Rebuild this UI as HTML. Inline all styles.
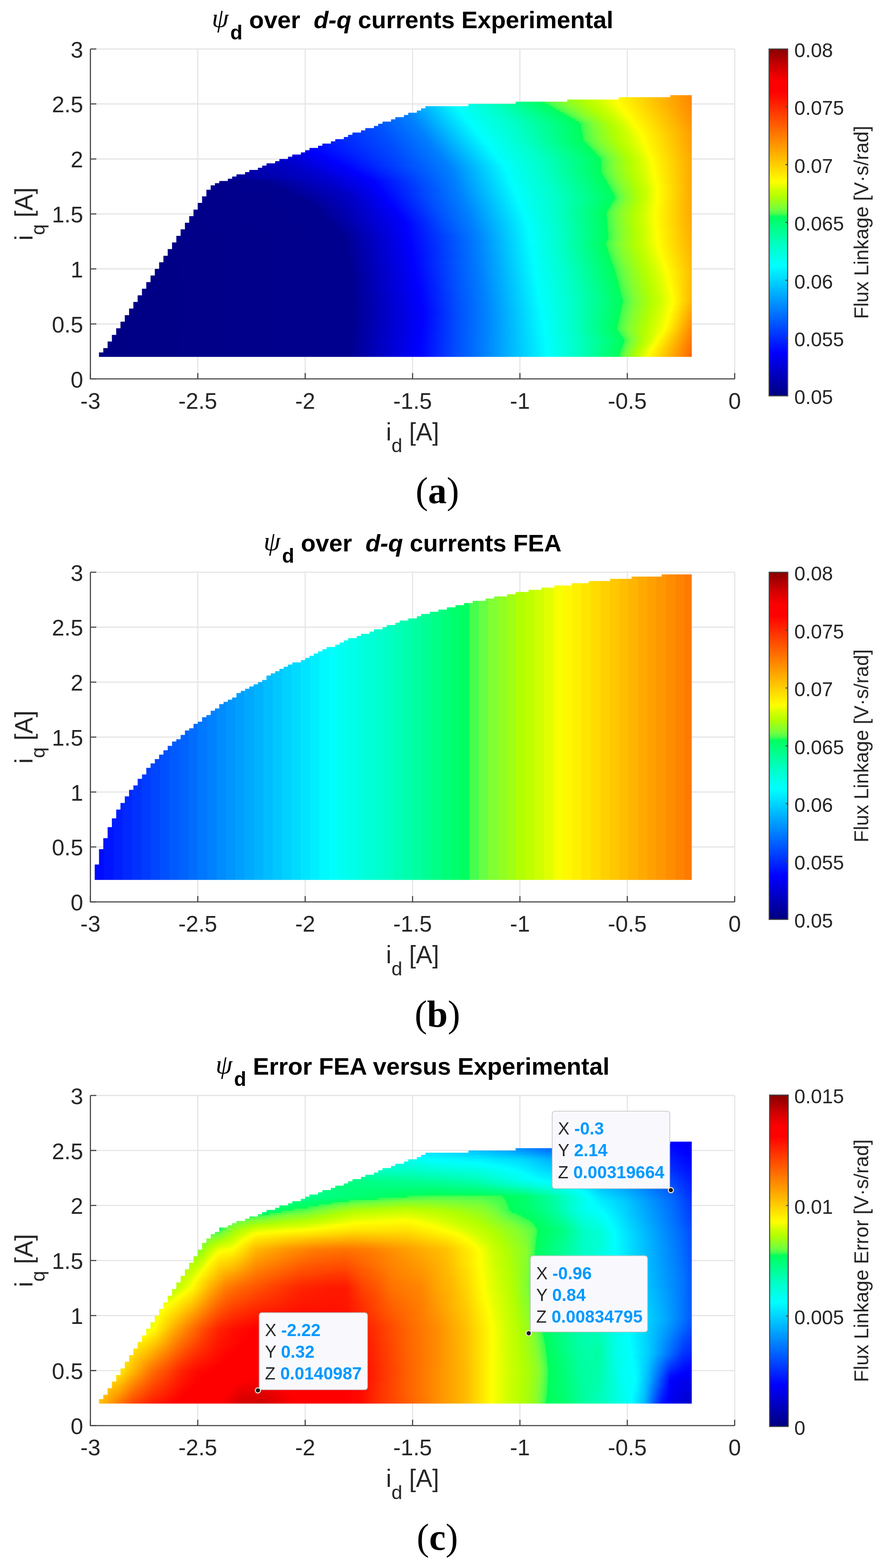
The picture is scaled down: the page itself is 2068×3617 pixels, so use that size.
<!DOCTYPE html>
<html><head><meta charset="utf-8"><style>
html,body{margin:0;padding:0;background:#fff}
#pg{position:relative;width:2068px;height:3617px;overflow:hidden;background:#fff}
svg{position:absolute;left:0;top:0}
.hm{position:absolute}
.hm i{position:absolute;left:0;right:0;display:block}
text{font-family:"Liberation Sans",Arial,sans-serif;fill:#262626;white-space:pre}
.tl text{font-size:52px}
.lab{font-size:56.5px}
.ttl{font-size:55.8px;font-weight:bold;fill:#000}
.cl,.cl text{font-size:45.8px}
.cap{font-family:"Liberation Serif",serif;font-size:86px;fill:#000}
.dt{font-size:39.8px;fill:#262626}
.dv{font-weight:bold;fill:#0099ff}
</style></head><body><div id="pg">
<svg width="2068" height="3617"><g stroke="#e3e3e3" stroke-width="2.4"><line x1="456.5" y1="113.0" x2="456.5" y2="874.0"/><line x1="704.4" y1="113.0" x2="704.4" y2="874.0"/><line x1="952.2" y1="113.0" x2="952.2" y2="874.0"/><line x1="1200.0" y1="113.0" x2="1200.0" y2="874.0"/><line x1="1447.9" y1="113.0" x2="1447.9" y2="874.0"/><line x1="1695.7" y1="113.0" x2="1695.7" y2="874.0"/><line x1="208.7" y1="747.2" x2="1695.7" y2="747.2"/><line x1="208.7" y1="620.3" x2="1695.7" y2="620.3"/><line x1="208.7" y1="493.5" x2="1695.7" y2="493.5"/><line x1="208.7" y1="366.7" x2="1695.7" y2="366.7"/><line x1="208.7" y1="239.8" x2="1695.7" y2="239.8"/><line x1="208.7" y1="113.0" x2="1695.7" y2="113.0"/></g><g stroke="#e3e3e3" stroke-width="2.4"><line x1="456.5" y1="1320.0" x2="456.5" y2="2080.5"/><line x1="704.4" y1="1320.0" x2="704.4" y2="2080.5"/><line x1="952.2" y1="1320.0" x2="952.2" y2="2080.5"/><line x1="1200.0" y1="1320.0" x2="1200.0" y2="2080.5"/><line x1="1447.9" y1="1320.0" x2="1447.9" y2="2080.5"/><line x1="1695.7" y1="1320.0" x2="1695.7" y2="2080.5"/><line x1="208.7" y1="1953.8" x2="1695.7" y2="1953.8"/><line x1="208.7" y1="1827.0" x2="1695.7" y2="1827.0"/><line x1="208.7" y1="1700.2" x2="1695.7" y2="1700.2"/><line x1="208.7" y1="1573.5" x2="1695.7" y2="1573.5"/><line x1="208.7" y1="1446.8" x2="1695.7" y2="1446.8"/><line x1="208.7" y1="1320.0" x2="1695.7" y2="1320.0"/></g><g stroke="#e3e3e3" stroke-width="2.4"><line x1="456.5" y1="2527.0" x2="456.5" y2="3288.5"/><line x1="704.4" y1="2527.0" x2="704.4" y2="3288.5"/><line x1="952.2" y1="2527.0" x2="952.2" y2="3288.5"/><line x1="1200.0" y1="2527.0" x2="1200.0" y2="3288.5"/><line x1="1447.9" y1="2527.0" x2="1447.9" y2="3288.5"/><line x1="1695.7" y1="2527.0" x2="1695.7" y2="3288.5"/><line x1="208.7" y1="3161.6" x2="1695.7" y2="3161.6"/><line x1="208.7" y1="3034.7" x2="1695.7" y2="3034.7"/><line x1="208.7" y1="2907.8" x2="1695.7" y2="2907.8"/><line x1="208.7" y1="2780.8" x2="1695.7" y2="2780.8"/><line x1="208.7" y1="2653.9" x2="1695.7" y2="2653.9"/><line x1="208.7" y1="2527.0" x2="1695.7" y2="2527.0"/></g></svg>
<div class="hm" style="left:228px;top:219px;width:1369px;height:605px;clip-path:polygon(0.5px 604.3px,0.5px 594.1px,10.4px 594.1px,10.4px 584.0px,20.4px 584.0px,20.4px 568.8px,30.3px 568.8px,30.3px 553.5px,40.2px 553.5px,40.2px 538.3px,50.1px 538.3px,50.1px 523.1px,60.0px 523.1px,60.0px 507.9px,69.9px 507.9px,69.9px 492.7px,79.8px 492.7px,79.8px 477.4px,89.7px 477.4px,89.7px 462.2px,99.7px 462.2px,99.7px 447.0px,109.6px 447.0px,109.6px 431.8px,119.5px 431.8px,119.5px 416.6px,129.4px 416.6px,129.4px 401.3px,139.3px 401.3px,139.3px 386.1px,149.2px 386.1px,149.2px 370.9px,159.1px 370.9px,159.1px 355.7px,169.1px 355.7px,169.1px 340.5px,179.0px 340.5px,179.0px 325.2px,188.9px 325.2px,188.9px 310.0px,198.8px 310.0px,198.8px 294.8px,208.7px 294.8px,208.7px 279.6px,218.6px 279.6px,218.6px 264.4px,228.5px 264.4px,228.5px 249.1px,238.4px 249.1px,238.4px 233.9px,248.4px 233.9px,248.4px 218.7px,258.3px 218.7px,258.3px 208.5px,268.2px 208.5px,268.2px 203.5px,278.1px 203.5px,278.1px 198.4px,288.0px 198.4px,288.0px 198.4px,297.9px 198.4px,297.9px 193.3px,307.8px 193.3px,307.8px 188.3px,317.8px 188.3px,317.8px 183.2px,327.7px 183.2px,327.7px 183.2px,337.6px 183.2px,337.6px 178.1px,347.5px 178.1px,347.5px 173.0px,357.4px 173.0px,357.4px 173.0px,367.3px 173.0px,367.3px 168.0px,377.2px 168.0px,377.2px 162.9px,387.1px 162.9px,387.1px 157.8px,397.1px 157.8px,397.1px 157.8px,407.0px 157.8px,407.0px 152.7px,416.9px 152.7px,416.9px 147.7px,426.8px 147.7px,426.8px 147.7px,436.7px 147.7px,436.7px 142.6px,446.6px 142.6px,446.6px 137.5px,456.5px 137.5px,456.5px 137.5px,466.5px 137.5px,466.5px 132.4px,476.4px 132.4px,476.4px 127.4px,486.3px 127.4px,486.3px 122.3px,496.2px 122.3px,496.2px 122.3px,506.1px 122.3px,506.1px 117.2px,516.0px 117.2px,516.0px 112.2px,525.9px 112.2px,525.9px 112.2px,535.8px 112.2px,535.8px 107.1px,545.8px 107.1px,545.8px 102.0px,555.7px 102.0px,555.7px 102.0px,565.6px 102.0px,565.6px 96.9px,575.5px 96.9px,575.5px 91.9px,585.4px 91.9px,585.4px 86.8px,595.3px 86.8px,595.3px 86.8px,605.2px 86.8px,605.2px 81.7px,615.2px 81.7px,615.2px 76.6px,625.1px 76.6px,625.1px 76.6px,635.0px 76.6px,635.0px 71.6px,644.9px 71.6px,644.9px 66.5px,654.8px 66.5px,654.8px 61.4px,664.7px 61.4px,664.7px 61.4px,674.6px 61.4px,674.6px 56.3px,684.5px 56.3px,684.5px 51.3px,694.5px 51.3px,694.5px 51.3px,704.4px 51.3px,704.4px 46.2px,714.3px 46.2px,714.3px 41.1px,724.2px 41.1px,724.2px 41.1px,734.1px 41.1px,734.1px 36.1px,744.0px 36.1px,744.0px 31.0px,753.9px 31.0px,753.9px 25.9px,763.9px 25.9px,763.9px 25.9px,773.8px 25.9px,773.8px 25.9px,783.7px 25.9px,783.7px 25.9px,793.6px 25.9px,793.6px 25.9px,803.5px 25.9px,803.5px 25.9px,813.4px 25.9px,813.4px 25.9px,823.3px 25.9px,823.3px 25.9px,833.2px 25.9px,833.2px 25.9px,843.2px 25.9px,843.2px 25.9px,853.1px 25.9px,853.1px 20.8px,863.0px 20.8px,863.0px 20.8px,872.9px 20.8px,872.9px 20.8px,882.8px 20.8px,882.8px 20.8px,892.7px 20.8px,892.7px 20.8px,902.6px 20.8px,902.6px 20.8px,912.6px 20.8px,912.6px 20.8px,922.5px 20.8px,922.5px 20.8px,932.4px 20.8px,932.4px 20.8px,942.3px 20.8px,942.3px 20.8px,952.2px 20.8px,952.2px 20.8px,962.1px 20.8px,962.1px 15.8px,972.0px 15.8px,972.0px 15.8px,981.9px 15.8px,981.9px 15.8px,991.9px 15.8px,991.9px 15.8px,1001.8px 15.8px,1001.8px 15.8px,1011.7px 15.8px,1011.7px 15.8px,1021.6px 15.8px,1021.6px 15.8px,1031.5px 15.8px,1031.5px 15.8px,1041.4px 15.8px,1041.4px 15.8px,1051.3px 15.8px,1051.3px 15.8px,1061.3px 15.8px,1061.3px 15.8px,1071.2px 15.8px,1071.2px 15.8px,1081.1px 15.8px,1081.1px 10.7px,1091.0px 10.7px,1091.0px 10.7px,1100.9px 10.7px,1100.9px 10.7px,1110.8px 10.7px,1110.8px 10.7px,1120.7px 10.7px,1120.7px 10.7px,1130.6px 10.7px,1130.6px 10.7px,1140.6px 10.7px,1140.6px 10.7px,1150.5px 10.7px,1150.5px 10.7px,1160.4px 10.7px,1160.4px 10.7px,1170.3px 10.7px,1170.3px 10.7px,1180.2px 10.7px,1180.2px 10.7px,1190.1px 10.7px,1190.1px 10.7px,1200.0px 10.7px,1200.0px 5.6px,1210.0px 5.6px,1210.0px 5.6px,1219.9px 5.6px,1219.9px 5.6px,1229.8px 5.6px,1229.8px 5.6px,1239.7px 5.6px,1239.7px 5.6px,1249.6px 5.6px,1249.6px 5.6px,1259.5px 5.6px,1259.5px 5.6px,1269.4px 5.6px,1269.4px 5.6px,1279.3px 5.6px,1279.3px 5.6px,1289.3px 5.6px,1289.3px 5.6px,1299.2px 5.6px,1299.2px 5.6px,1309.1px 5.6px,1309.1px 5.6px,1319.0px 5.6px,1319.0px 0.5px,1328.9px 0.5px,1328.9px 0.5px,1338.8px 0.5px,1338.8px 0.5px,1348.7px 0.5px,1348.7px 0.5px,1358.7px 0.5px,1358.7px 0.5px,1368.6px 0.5px,1368.6px 604.3px)">
<i style="top:0px;height:6px;background:linear-gradient(90deg,#000089 0px,#00008f 179px,#0000c7 327px,#0000ff 377px,#0080ff 676px,#00feff 803px,#00ffc7 890px,#00ff5a 1017px,#01ff59 1018px,#25ff54 1019px,#39ff51 1020px,#66ff45 1043px,#7fff33 1060px,#b2ff00 1114px,#cdff00 1145px,#ffff00 1187px,#ff8800 1369px)"></i>
<i style="top:5px;height:6px;background:linear-gradient(90deg,#000089 0px,#00008f 179px,#0000c7 327px,#0000ff 378px,#004cff 566px,#007fff 680px,#00ffff 808px,#00ffc7 894px,#00ff5a 1021px,#18ff56 1022px,#38ff52 1023px,#65ff45 1046px,#80ff33 1064px,#b2ff00 1117px,#ccff00 1148px,#ffff00 1190px,#ff8800 1369px)"></i>
<i style="top:10px;height:6px;background:linear-gradient(90deg,#000089 0px,#00008f 179px,#0000c7 327px,#0000ff 378px,#004cff 572px,#007fff 684px,#00feff 812px,#00ffc7 898px,#00ff5a 1024px,#0aff58 1025px,#2dff53 1026px,#39ff51 1027px,#65ff45 1049px,#7fff33 1067px,#b3ff00 1121px,#ccff00 1151px,#ffff00 1194px,#ff8800 1369px)"></i>
<i style="top:15px;height:6px;background:linear-gradient(90deg,#000089 0px,#00008f 179px,#0000c7 327px,#0000ff 378px,#004cff 577px,#0080ff 689px,#00ffff 817px,#00ffc7 902px,#00ff5a 1028px,#0eff57 1029px,#31ff53 1030px,#3aff51 1031px,#65ff45 1053px,#80ff33 1071px,#b2ff00 1124px,#ccff00 1155px,#ffff00 1197px,#ff8900 1369px)"></i>
<i style="top:20px;height:6px;background:linear-gradient(90deg,#000089 0px,#00008f 179px,#0000c7 327px,#0000ff 378px,#004dff 583px,#007fff 693px,#00ffff 822px,#00ffc6 909px,#00ff5a 1037px,#38ff52 1039px,#65ff45 1061px,#7fff33 1078px,#b2ff00 1130px,#cdff00 1160px,#ffff00 1201px,#ff8900 1369px)"></i>
<i style="top:25px;height:6px;background:linear-gradient(90deg,#000089 0px,#00008f 179px,#0000c7 327px,#0000ff 378px,#004cff 588px,#007fff 697px,#00feff 826px,#00ffc7 915px,#00ff5a 1045px,#01ff59 1046px,#25ff54 1047px,#39ff51 1048px,#65ff45 1069px,#80ff33 1086px,#b2ff00 1136px,#cdff00 1165px,#ffff00 1204px,#ff8a00 1369px)"></i>
<i style="top:30px;height:6px;background:linear-gradient(90deg,#000089 0px,#00008f 179px,#0000c7 327px,#0000ff 378px,#004dff 594px,#007fff 702px,#00feff 830px,#00ffc7 921px,#00ff5a 1054px,#0dff58 1055px,#30ff53 1056px,#3aff51 1057px,#65ff45 1077px,#7fff33 1093px,#b2ff00 1142px,#cdff00 1170px,#ffff00 1208px,#ff8b00 1369px)"></i>
<i style="top:35px;height:6px;background:linear-gradient(90deg,#000089 0px,#00008f 179px,#0000c7 327px,#0000ff 378px,#004cff 599px,#007fff 706px,#00feff 834px,#00ffc6 927px,#00ff5a 1063px,#18ff56 1064px,#38ff52 1065px,#67ff44 1086px,#80ff33 1101px,#b3ff00 1148px,#ccff00 1175px,#ffff00 1212px,#ff8d00 1369px)"></i>
<i style="top:40px;height:6px;background:linear-gradient(90deg,#000089 0px,#00008f 179px,#0000c7 327px,#0000ff 378px,#004dff 605px,#007fff 710px,#00feff 838px,#00ffc6 933px,#00ff59 1072px,#23ff54 1073px,#39ff51 1074px,#67ff44 1094px,#7fff33 1108px,#b3ff00 1154px,#ccff00 1180px,#ffff00 1216px,#ff8f00 1369px)"></i>
<i style="top:45px;height:6px;background:linear-gradient(90deg,#000089 0px,#00008f 179px,#0000c7 327px,#0000ff 379px,#004cff 610px,#007fff 714px,#00feff 842px,#00ffc7 938px,#00ff5a 1080px,#0bff58 1081px,#30ff53 1082px,#3aff51 1083px,#67ff44 1102px,#80ff33 1116px,#b3ff00 1160px,#ccff00 1185px,#ffff00 1220px,#ff9000 1369px)"></i>
<i style="top:50px;height:6px;background:linear-gradient(90deg,#000089 0px,#00008f 179px,#0000c7 327px,#0000ff 386px,#004cff 615px,#007fff 718px,#00feff 846px,#00ffc7 944px,#00ff5a 1089px,#16ff56 1090px,#38ff52 1091px,#67ff44 1110px,#7fff33 1123px,#b3ff00 1166px,#ccff00 1190px,#ffff00 1224px,#ff9200 1369px)"></i>
<i style="top:55px;height:6px;background:linear-gradient(90deg,#000089 0px,#00008f 179px,#0000c7 327px,#0000ff 393px,#004cff 621px,#007fff 722px,#00feff 850px,#00ffc7 950px,#00ff59 1098px,#21ff55 1099px,#39ff51 1100px,#67ff44 1118px,#80ff33 1131px,#b3ff00 1172px,#ccff00 1195px,#ffff00 1228px,#ff9300 1369px)"></i>
<i style="top:60px;height:6px;background:linear-gradient(90deg,#000089 0px,#00008f 179px,#0000c7 327px,#0000ff 400px,#004cff 626px,#007fff 726px,#00ffff 855px,#00ffc7 956px,#00ff5a 1106px,#0aff58 1107px,#2fff53 1108px,#3aff51 1109px,#67ff44 1126px,#7fff33 1138px,#b3ff00 1178px,#cdff00 1201px,#ffff00 1232px,#ff9500 1369px)"></i>
<i style="top:65px;height:6px;background:linear-gradient(90deg,#000089 0px,#00008f 179px,#0000c7 328px,#0000ff 407px,#004cff 631px,#007fff 730px,#00ffff 859px,#00ffc7 961px,#00ff5a 1111px,#06ff58 1112px,#2aff53 1113px,#3aff51 1114px,#67ff44 1131px,#7fff33 1143px,#b2ff00 1182px,#cdff00 1205px,#feff00 1235px,#ff9600 1369px)"></i>
<i style="top:70px;height:6px;background:linear-gradient(90deg,#000089 0px,#00008f 179px,#0000c7 329px,#0000ff 414px,#004dff 636px,#007fff 734px,#00ffff 863px,#00ffc7 963px,#00ff5a 1112px,#0cff58 1113px,#32ff52 1114px,#3aff51 1115px,#67ff44 1132px,#80ff32 1145px,#b3ff00 1185px,#cdff00 1208px,#ffff00 1239px,#ff9800 1369px)"></i>
<i style="top:75px;height:6px;background:linear-gradient(90deg,#000089 0px,#00008f 179px,#0000c7 335px,#0000ff 421px,#004cff 640px,#007fff 738px,#00ffff 867px,#00ffc7 966px,#00ff5a 1113px,#12ff57 1114px,#38ff52 1115px,#66ff45 1133px,#7fff33 1146px,#b2ff00 1187px,#cdff00 1211px,#ffff00 1243px,#ff9a00 1369px)"></i>
<i style="top:80px;height:6px;background:linear-gradient(90deg,#000089 0px,#00008f 179px,#0000c7 341px,#0000ff 428px,#004cff 644px,#007fff 742px,#00ffff 871px,#00ffc7 969px,#00ff59 1114px,#17ff56 1115px,#39ff51 1116px,#68ff44 1135px,#80ff33 1148px,#b3ff00 1190px,#cdff00 1214px,#feff00 1246px,#ff9b00 1369px)"></i>
<i style="top:85px;height:6px;background:linear-gradient(90deg,#000089 0px,#00008f 179px,#0000c7 347px,#0000ff 435px,#004cff 648px,#007fff 746px,#00ffff 875px,#00ffc7 972px,#00ff59 1115px,#39ff51 1117px,#67ff44 1136px,#7fff33 1149px,#b3ff00 1192px,#ccff00 1216px,#ffff00 1250px,#ff9d00 1369px)"></i>
<i style="top:90px;height:6px;background:linear-gradient(90deg,#000089 0px,#00008f 179px,#0000c7 354px,#0000ff 442px,#004dff 653px,#007fff 750px,#00ffff 879px,#00ffc7 974px,#00ff5a 1115px,#01ff59 1116px,#25ff54 1117px,#39ff51 1118px,#67ff44 1137px,#7fff33 1150px,#b3ff00 1194px,#ccff00 1218px,#ffff00 1252px,#ff9e00 1369px)"></i>
<i style="top:95px;height:6px;background:linear-gradient(90deg,#000089 0px,#00008f 179px,#0000c7 360px,#0000ff 449px,#004cff 657px,#007fff 754px,#00ffff 883px,#00ffc7 977px,#00ff5a 1116px,#07ff58 1117px,#2cff53 1118px,#3aff51 1119px,#67ff44 1138px,#7fff33 1151px,#b3ff00 1195px,#cdff00 1220px,#ffff00 1254px,#ff9e00 1369px)"></i>
<i style="top:100px;height:6px;background:linear-gradient(90deg,#000089 0px,#00008f 179px,#0000c7 366px,#0000ff 456px,#004cff 661px,#007fff 758px,#00ffff 887px,#00ffc7 980px,#00ff5a 1117px,#0dff57 1118px,#33ff52 1119px,#3aff51 1120px,#67ff44 1139px,#80ff32 1153px,#b2ff00 1196px,#ccff00 1221px,#ffff00 1256px,#ff9f00 1369px)"></i>
<i style="top:105px;height:6px;background:linear-gradient(90deg,#000089 0px,#00008f 179px,#0000c7 372px,#0000ff 463px,#004cff 665px,#007fff 762px,#00ffff 891px,#00ffc7 984px,#00ff5a 1120px,#07ff58 1121px,#2cff53 1122px,#3aff51 1123px,#67ff44 1142px,#7fff33 1155px,#b3ff00 1199px,#cdff00 1224px,#ffff00 1258px,#ffa000 1369px)"></i>
<i style="top:110px;height:6px;background:linear-gradient(90deg,#000089 0px,#00008f 179px,#0000c7 379px,#0000ff 470px,#004dff 670px,#007fff 766px,#00ffff 895px,#00ffc7 988px,#00ff5a 1125px,#0dff57 1126px,#33ff52 1127px,#3aff51 1128px,#67ff44 1146px,#80ff32 1160px,#b2ff00 1202px,#ccff00 1226px,#ffff00 1260px,#ffa100 1369px)"></i>
<i style="top:115px;height:6px;background:linear-gradient(90deg,#000089 0px,#00008f 179px,#0000c7 385px,#0000ff 477px,#004cff 674px,#007fff 770px,#00feff 899px,#00ffc7 992px,#00ff5a 1130px,#13ff57 1131px,#38ff52 1132px,#68ff44 1151px,#80ff33 1164px,#b2ff00 1205px,#ccff00 1229px,#ffff00 1262px,#ffa200 1369px)"></i>
<i style="top:120px;height:6px;background:linear-gradient(90deg,#000089 0px,#00008f 179px,#0000c7 391px,#0000ff 484px,#004cff 678px,#007fff 774px,#00feff 903px,#00ffc7 997px,#00ff59 1135px,#19ff56 1136px,#39ff51 1137px,#67ff44 1155px,#80ff33 1168px,#b3ff00 1209px,#cdff00 1232px,#ffff00 1264px,#ffa200 1369px)"></i>
<i style="top:125px;height:6px;background:linear-gradient(90deg,#000089 0px,#00008f 179px,#0000c7 397px,#0000ff 492px,#004cff 682px,#0080ff 778px,#00feff 907px,#00ffc7 1001px,#00ff59 1140px,#20ff55 1141px,#39ff51 1142px,#66ff45 1159px,#80ff33 1172px,#b3ff00 1212px,#cdff00 1235px,#ffff00 1266px,#ffa300 1369px)"></i>
<i style="top:130px;height:6px;background:linear-gradient(90deg,#000089 0px,#00008f 179px,#0000c7 403px,#0000ff 502px,#004dff 687px,#0080ff 782px,#00feff 911px,#00ffc6 1006px,#00ff5a 1144px,#03ff59 1145px,#28ff54 1146px,#3aff51 1147px,#67ff44 1164px,#80ff33 1176px,#b3ff00 1215px,#ccff00 1237px,#ffff00 1268px,#ffa400 1369px)"></i>
<i style="top:135px;height:6px;background:linear-gradient(90deg,#000089 0px,#00008f 179px,#0000c7 410px,#0000ff 512px,#004cff 691px,#0080ff 786px,#00feff 915px,#00ffc7 1010px,#00ff5a 1149px,#09ff58 1150px,#30ff53 1151px,#3aff51 1152px,#66ff45 1168px,#7fff33 1180px,#b2ff00 1218px,#ccff00 1240px,#ffff00 1270px,#ffa500 1369px)"></i>
<i style="top:140px;height:6px;background:linear-gradient(90deg,#000089 0px,#00008f 179px,#0000c7 416px,#0000ff 522px,#004cff 695px,#0080ff 790px,#00feff 919px,#00ffc7 1014px,#00ff5a 1154px,#0fff57 1155px,#38ff52 1156px,#68ff44 1173px,#7fff33 1184px,#b2ff01 1221px,#cdff00 1243px,#ffff00 1272px,#ffa600 1369px)"></i>
<i style="top:145px;height:6px;background:linear-gradient(90deg,#000089 0px,#00008f 179px,#0000c7 422px,#0000ff 532px,#004cff 699px,#0080ff 794px,#00feff 923px,#00ffc7 1018px,#00ff59 1158px,#39ff51 1160px,#67ff44 1176px,#80ff32 1188px,#b2ff00 1224px,#ccff00 1245px,#ffff00 1274px,#ffa700 1369px)"></i>
<i style="top:150px;height:6px;background:linear-gradient(90deg,#000088 0px,#00008f 190px,#0000c7 428px,#0000ff 542px,#004dff 704px,#0080ff 798px,#00feff 927px,#00ffc6 1021px,#00ff5a 1158px,#15ff56 1159px,#39ff51 1160px,#66ff45 1176px,#7fff33 1188px,#b2ff00 1225px,#cdff00 1247px,#ffff00 1276px,#ffa700 1369px)"></i>
<i style="top:155px;height:6px;background:linear-gradient(90deg,#000088 0px,#00008f 201px,#0000c7 435px,#0000ff 552px,#004cff 708px,#0080ff 802px,#00ffff 932px,#00ffc7 1023px,#00ff5a 1158px,#0dff58 1159px,#37ff52 1160px,#67ff44 1177px,#80ff32 1189px,#b3ff00 1226px,#ccff00 1247px,#ffff00 1277px,#ffa700 1369px)"></i>
<i style="top:160px;height:6px;background:linear-gradient(90deg,#000088 0px,#00008f 212px,#0000c7 444px,#0000ff 562px,#007fff 805px,#00ffff 936px,#00ffc6 1026px,#00ff5a 1158px,#04ff59 1159px,#2cff53 1160px,#3aff51 1161px,#67ff44 1177px,#80ff33 1189px,#b3ff00 1227px,#ccff00 1248px,#ffff00 1278px,#ffa700 1369px)"></i>
<i style="top:165px;height:6px;background:linear-gradient(90deg,#000088 0px,#00008f 222px,#0000c7 454px,#0000ff 572px,#007fff 808px,#00feff 938px,#00ffc7 1027px,#00ff59 1159px,#21ff55 1160px,#39ff51 1161px,#66ff45 1177px,#7fff33 1189px,#b2ff01 1227px,#ccff00 1249px,#ffff00 1279px,#ffa800 1369px)"></i>
<i style="top:170px;height:6px;background:linear-gradient(90deg,#000088 0px,#00008f 233px,#0000c7 464px,#0000ff 582px,#007fff 810px,#00feff 940px,#00ffc6 1029px,#00ff5a 1159px,#17ff56 1160px,#39ff51 1161px,#67ff44 1178px,#80ff33 1190px,#b2ff00 1228px,#cdff00 1250px,#ffff00 1280px,#ffa800 1369px)"></i>
<i style="top:175px;height:6px;background:linear-gradient(90deg,#000088 0px,#00008f 244px,#0000c7 474px,#0000ff 592px,#007fff 812px,#00feff 942px,#00ffc7 1030px,#00ff5a 1159px,#0fff57 1160px,#38ff52 1161px,#66ff45 1178px,#7fff33 1190px,#b3ff00 1229px,#cdff00 1251px,#ffff00 1281px,#ffa800 1369px)"></i>
<i style="top:180px;height:6px;background:linear-gradient(90deg,#000087 0px,#00008f 255px,#0000c7 484px,#0000ff 602px,#007fff 814px,#00feff 944px,#00ffc7 1032px,#00ff59 1162px,#23ff54 1163px,#3aff51 1164px,#66ff45 1180px,#80ff32 1193px,#b3ff00 1231px,#ccff00 1252px,#ffff00 1282px,#ffa800 1369px)"></i>
<i style="top:185px;height:6px;background:linear-gradient(90deg,#000087 0px,#00008f 266px,#0000c7 495px,#0000ff 612px,#007fff 816px,#00feff 946px,#00ffc7 1034px,#00ff5a 1164px,#04ff59 1165px,#2cff53 1166px,#3aff51 1167px,#67ff44 1183px,#80ff33 1195px,#b2ff00 1232px,#cdff00 1254px,#ffff00 1283px,#ffa800 1369px)"></i>
<i style="top:190px;height:6px;background:linear-gradient(90deg,#000087 0px,#00008f 277px,#0000c7 505px,#0000ff 622px,#007fff 818px,#00feff 948px,#00ffc7 1037px,#00ff5a 1167px,#0bff58 1168px,#36ff52 1169px,#68ff44 1186px,#7fff33 1197px,#b2ff00 1234px,#ccff00 1255px,#feff00 1284px,#ffa800 1369px)"></i>
<i style="top:195px;height:6px;background:linear-gradient(90deg,#000086 0px,#00008f 371px,#0000c7 515px,#0000ff 631px,#007fff 820px,#00feff 950px,#00ffc7 1039px,#00ff5a 1170px,#12ff57 1171px,#39ff51 1172px,#67ff44 1188px,#80ff32 1200px,#b2ff00 1236px,#cdff00 1257px,#feff00 1285px,#ffa800 1369px)"></i>
<i style="top:200px;height:6px;background:linear-gradient(90deg,#000086 0px,#00008f 382px,#0000c7 525px,#0000ff 635px,#007fff 822px,#00feff 952px,#00ffc7 1041px,#00ff5a 1173px,#39ff51 1175px,#68ff44 1191px,#80ff33 1202px,#b3ff00 1238px,#cdff00 1259px,#feff00 1286px,#ffa800 1369px)"></i>
<i style="top:205px;height:6px;background:linear-gradient(90deg,#000086 0px,#00008f 394px,#0000c7 535px,#0000ff 639px,#007fff 824px,#00feff 954px,#00ffc7 1044px,#00ff59 1176px,#23ff55 1177px,#3aff51 1178px,#66ff45 1193px,#7fff33 1204px,#b3ff00 1240px,#ccff00 1260px,#ffff00 1288px,#ffa800 1369px)"></i>
<i style="top:210px;height:6px;background:linear-gradient(90deg,#000086 0px,#00008f 405px,#0000c7 545px,#0000ff 643px,#007fff 826px,#00feff 956px,#00ffc7 1046px,#00ff5a 1178px,#04ff59 1179px,#2cff53 1180px,#3aff51 1181px,#67ff44 1196px,#80ff33 1207px,#b3ff00 1242px,#cdff00 1262px,#ffff00 1289px,#ffa800 1369px)"></i>
<i style="top:215px;height:6px;background:linear-gradient(90deg,#000085 0px,#00008f 416px,#0000c7 555px,#0000ff 647px,#007fff 828px,#00feff 958px,#00ffc7 1048px,#00ff5a 1181px,#0bff58 1182px,#37ff52 1183px,#66ff45 1198px,#7fff33 1209px,#b2ff01 1243px,#ccff00 1263px,#ffff00 1290px,#ffa800 1369px)"></i>
<i style="top:220px;height:6px;background:linear-gradient(90deg,#000085 0px,#00008f 428px,#0000c7 565px,#0000ff 651px,#007fff 830px,#00feff 960px,#00ffc6 1051px,#00ff5a 1184px,#12ff57 1185px,#39ff51 1186px,#68ff44 1201px,#7fff33 1211px,#b2ff01 1244px,#ccff00 1263px,#feff00 1289px,#ffa800 1369px)"></i>
<i style="top:225px;height:6px;background:linear-gradient(90deg,#000085 0px,#00008f 439px,#0000c7 575px,#0000ff 655px,#004dff 757px,#007fff 832px,#00feff 962px,#00ffc7 1053px,#00ff5a 1187px,#19ff56 1188px,#39ff51 1189px,#67ff44 1203px,#7fff33 1213px,#b2ff01 1245px,#cdff00 1264px,#ffff00 1289px,#ffa800 1369px)"></i>
<i style="top:230px;height:6px;background:linear-gradient(90deg,#000085 0px,#00008f 450px,#0000c7 580px,#0000ff 659px,#004cff 759px,#007fff 834px,#00feff 964px,#00ffc7 1055px,#00ff59 1190px,#22ff55 1191px,#3aff51 1192px,#66ff45 1205px,#7fff33 1215px,#b2ff01 1246px,#ccff00 1264px,#ffff00 1289px,#ffa800 1369px)"></i>
<i style="top:235px;height:6px;background:linear-gradient(90deg,#000085 0px,#00008f 461px,#0000c7 584px,#0000ff 663px,#004dff 762px,#007fff 836px,#00feff 966px,#00ffc7 1057px,#00ff5a 1191px,#0bff58 1192px,#38ff52 1193px,#68ff44 1207px,#7fff33 1216px,#b3ff00 1247px,#ccff00 1264px,#feff00 1288px,#ffa800 1369px)"></i>
<i style="top:240px;height:6px;background:linear-gradient(90deg,#000085 0px,#00008f 473px,#0000c7 587px,#0000ff 667px,#004cff 764px,#007fff 838px,#00feff 968px,#00ffc7 1057px,#00ff5a 1188px,#0bff58 1189px,#38ff52 1190px,#67ff44 1204px,#80ff33 1214px,#b2ff00 1245px,#ccff00 1263px,#ffff00 1288px,#ffa800 1369px)"></i>
<i style="top:245px;height:6px;background:linear-gradient(90deg,#000085 0px,#00008f 484px,#0000c7 591px,#0000ff 671px,#004dff 767px,#007fff 840px,#00feff 970px,#00ffc7 1057px,#00ff5a 1185px,#0aff58 1186px,#38ff52 1187px,#66ff45 1201px,#80ff32 1212px,#b3ff00 1244px,#cdff00 1262px,#ffff00 1287px,#ffa800 1369px)"></i>
<i style="top:250px;height:6px;background:linear-gradient(90deg,#000085 0px,#00008f 491px,#0000c7 594px,#0000ff 675px,#004cff 769px,#007fff 842px,#00feff 972px,#00ffc7 1057px,#00ff5a 1182px,#0aff58 1183px,#38ff52 1184px,#68ff44 1199px,#80ff33 1209px,#b3ff00 1242px,#cdff00 1261px,#feff00 1286px,#ffa800 1369px)"></i>
<i style="top:255px;height:6px;background:linear-gradient(90deg,#000085 0px,#00008f 496px,#0000c7 597px,#0000ff 679px,#004dff 772px,#007fff 844px,#00feff 974px,#00ffc7 1057px,#00ff5a 1179px,#0aff58 1180px,#38ff52 1181px,#67ff44 1196px,#80ff32 1207px,#b2ff00 1240px,#cdff00 1260px,#ffff00 1286px,#ffa800 1369px)"></i>
<i style="top:260px;height:6px;background:linear-gradient(90deg,#000085 0px,#00008f 501px,#0000c7 601px,#0000ff 683px,#004cff 774px,#007fff 846px,#00feff 976px,#00ffc7 1057px,#00ff5a 1176px,#09ff58 1177px,#37ff52 1178px,#66ff45 1193px,#7fff33 1204px,#b3ff00 1239px,#ccff00 1258px,#feff00 1285px,#ffa800 1369px)"></i>
<i style="top:265px;height:6px;background:linear-gradient(90deg,#000085 0px,#00008f 506px,#0000c7 604px,#0000ff 687px,#004dff 777px,#007fff 848px,#00feff 978px,#00ffc7 1057px,#00ff5a 1173px,#09ff58 1174px,#36ff52 1175px,#67ff44 1191px,#80ff33 1202px,#b2ff00 1237px,#ccff00 1257px,#ffff00 1285px,#ffa800 1369px)"></i>
<i style="top:270px;height:6px;background:linear-gradient(90deg,#000085 0px,#00008f 511px,#0000c7 607px,#0000ff 691px,#004cff 779px,#007fff 850px,#00feff 980px,#00ffc7 1057px,#00ff59 1171px,#24ff54 1172px,#3aff51 1173px,#66ff45 1188px,#80ff33 1200px,#b3ff00 1236px,#ccff00 1256px,#feff00 1284px,#ffa800 1369px)"></i>
<i style="top:275px;height:6px;background:linear-gradient(90deg,#000085 0px,#00008f 516px,#0000c7 611px,#0000ff 695px,#004cff 782px,#007fff 852px,#00feff 982px,#00ffc6 1059px,#00ff5a 1171px,#11ff57 1172px,#39ff51 1173px,#67ff44 1189px,#80ff33 1200px,#b3ff00 1236px,#cdff00 1256px,#ffff00 1284px,#ffa800 1369px)"></i>
<i style="top:280px;height:6px;background:linear-gradient(90deg,#000085 0px,#00008f 521px,#0000ff 699px,#004cff 784px,#007fff 854px,#00feff 984px,#00ffc7 1060px,#00ff59 1172px,#2cff53 1173px,#3aff51 1174px,#67ff44 1189px,#7fff33 1200px,#b3ff00 1236px,#cdff00 1256px,#feff00 1283px,#ffa800 1369px)"></i>
<i style="top:285px;height:6px;background:linear-gradient(90deg,#000085 0px,#00008f 526px,#0000ff 703px,#004cff 787px,#007fff 856px,#00feff 986px,#00ffc7 1061px,#00ff5a 1172px,#17ff56 1173px,#39ff51 1174px,#68ff43 1190px,#80ff32 1201px,#b3ff00 1236px,#ccff00 1256px,#ffff00 1284px,#ffa900 1369px)"></i>
<i style="top:290px;height:6px;background:linear-gradient(90deg,#000085 0px,#00008f 531px,#0000ff 707px,#004cff 789px,#007fff 858px,#00feff 988px,#00ffc6 1063px,#00ff5a 1172px,#05ff59 1173px,#33ff52 1174px,#3bff51 1175px,#67ff44 1190px,#80ff33 1201px,#b2ff01 1236px,#cdff00 1257px,#feff00 1284px,#ffa900 1369px)"></i>
<i style="top:295px;height:6px;background:linear-gradient(90deg,#000085 0px,#00008f 536px,#0000ff 709px,#004cff 792px,#007fff 860px,#00feff 989px,#00ffc6 1064px,#00ff5a 1173px,#3aff51 1175px,#66ff45 1190px,#80ff32 1202px,#b3ff00 1237px,#ccff00 1257px,#ffff00 1285px,#ffaa00 1369px)"></i>
<i style="top:300px;height:6px;background:linear-gradient(90deg,#000085 0px,#00008f 541px,#0000ff 710px,#004dff 795px,#007fff 862px,#00feff 990px,#00ffc7 1064px,#00ff5a 1173px,#0bff58 1174px,#38ff52 1175px,#67ff44 1191px,#80ff33 1202px,#b2ff01 1237px,#cdff00 1258px,#feff00 1285px,#ffab00 1369px)"></i>
<i style="top:305px;height:6px;background:linear-gradient(90deg,#000085 0px,#00008f 546px,#0000ff 711px,#004cff 797px,#007fff 864px,#00ffff 991px,#00ffc7 1065px,#00ff59 1174px,#26ff54 1175px,#3aff51 1176px,#66ff45 1191px,#7fff33 1202px,#b3ff00 1238px,#ccff00 1258px,#ffff00 1286px,#ffac00 1369px)"></i>
<i style="top:310px;height:6px;background:linear-gradient(90deg,#000084 0px,#00008f 551px,#0000ff 712px,#004dff 800px,#007fff 866px,#00ffff 992px,#00ffc6 1066px,#00ff5a 1174px,#12ff57 1175px,#39ff51 1176px,#68ff44 1192px,#80ff33 1203px,#b2ff00 1238px,#cdff00 1259px,#feff00 1286px,#ffac00 1369px)"></i>
<i style="top:315px;height:6px;background:linear-gradient(90deg,#000084 0px,#00008f 556px,#0000ff 713px,#004cff 802px,#007fff 868px,#00ffff 993px,#00ffc7 1066px,#00ff59 1175px,#2dff53 1176px,#3aff51 1177px,#67ff44 1192px,#7fff33 1203px,#b3ff00 1239px,#ccff00 1259px,#ffff00 1287px,#ffad00 1369px)"></i>
<i style="top:320px;height:6px;background:linear-gradient(90deg,#000084 0px,#00008f 561px,#0000ff 714px,#007fff 870px,#00feff 993px,#00ffc7 1067px,#00ff5a 1175px,#18ff56 1176px,#39ff51 1177px,#68ff44 1193px,#80ff33 1204px,#b2ff00 1239px,#cdff00 1260px,#feff00 1287px,#ffae00 1369px)"></i>
<i style="top:325px;height:6px;background:linear-gradient(90deg,#000084 0px,#00008f 565px,#0000ff 715px,#0080ff 872px,#00feff 994px,#00ffc6 1068px,#00ff5a 1175px,#05ff59 1176px,#34ff52 1177px,#3bff51 1178px,#67ff44 1193px,#7fff33 1204px,#b3ff00 1240px,#ccff00 1260px,#ffff00 1288px,#ffaf00 1369px)"></i>
<i style="top:330px;height:6px;background:linear-gradient(90deg,#000084 0px,#00008f 566px,#0000ff 716px,#0080ff 873px,#00ffff 995px,#00ffc6 1068px,#00ff59 1175px,#2eff53 1176px,#3aff51 1177px,#66ff45 1192px,#80ff32 1204px,#b3ff00 1240px,#ccff00 1260px,#feff00 1288px,#ffaf00 1369px)"></i>
<i style="top:335px;height:6px;background:linear-gradient(90deg,#000084 0px,#00008f 567px,#0000ff 717px,#007fff 873px,#00ffff 996px,#00ffc7 1067px,#00ff5a 1172px,#18ff56 1173px,#39ff51 1174px,#66ff45 1190px,#80ff33 1202px,#b3ff00 1239px,#cdff00 1260px,#ffff00 1289px,#ffb000 1369px)"></i>
<i style="top:340px;height:6px;background:linear-gradient(90deg,#000084 0px,#00008f 568px,#0000ff 718px,#0080ff 874px,#00ffff 997px,#00ffc6 1067px,#00ff5a 1169px,#02ff59 1170px,#31ff53 1171px,#3aff51 1172px,#67ff44 1188px,#80ff33 1200px,#b3ff00 1238px,#cdff00 1260px,#ffff00 1289px,#ffb100 1369px)"></i>
<i style="top:345px;height:6px;background:linear-gradient(90deg,#000084 0px,#00008f 569px,#0000ff 719px,#007fff 874px,#00feff 997px,#00ffc6 1068px,#00ff59 1171px,#24ff54 1172px,#3aff51 1173px,#66ff45 1189px,#7fff33 1201px,#b3ff00 1239px,#cdff00 1261px,#ffff00 1290px,#ffb200 1369px)"></i>
<i style="top:350px;height:6px;background:linear-gradient(90deg,#000084 0px,#00008f 570px,#0000ff 720px,#0080ff 875px,#00feff 998px,#00ffc6 1069px,#00ff5a 1172px,#05ff59 1173px,#33ff52 1174px,#3bff51 1175px,#67ff44 1191px,#80ff33 1203px,#b3ff00 1241px,#ccff00 1262px,#ffff00 1292px,#ffb200 1369px)"></i>
<i style="top:355px;height:6px;background:linear-gradient(90deg,#000084 0px,#00008f 571px,#0000ff 721px,#007fff 875px,#00ffff 999px,#00ffc7 1070px,#00ff5a 1174px,#14ff57 1175px,#39ff51 1176px,#68ff44 1193px,#80ff32 1205px,#b2ff00 1242px,#cdff00 1264px,#feff00 1293px,#ffb300 1369px)"></i>
<i style="top:360px;height:6px;background:linear-gradient(90deg,#000084 0px,#00008f 572px,#0000ff 722px,#0080ff 876px,#00ffff 1000px,#00ffc7 1071px,#00ff5a 1176px,#22ff55 1177px,#3aff51 1178px,#66ff45 1194px,#7fff33 1206px,#b3ff00 1244px,#cdff00 1266px,#ffff00 1295px,#ffb400 1369px)"></i>
<i style="top:365px;height:6px;background:linear-gradient(90deg,#000084 0px,#00008f 573px,#0000fe 722px,#0080ff 877px,#00ffff 1001px,#00ffc7 1072px,#00ff5a 1177px,#03ff59 1178px,#31ff53 1179px,#3aff51 1180px,#67ff44 1196px,#80ff33 1208px,#b3ff00 1246px,#ccff00 1267px,#ffff00 1297px,#ffb500 1369px)"></i>
<i style="top:370px;height:6px;background:linear-gradient(90deg,#000084 0px,#00008f 574px,#0000ff 723px,#007fff 877px,#00feff 1001px,#00ffc7 1073px,#00ff5a 1179px,#11ff57 1180px,#39ff51 1181px,#67ff44 1198px,#80ff32 1210px,#b2ff01 1247px,#ccff00 1269px,#feff00 1298px,#ffb600 1369px)"></i>
<i style="top:375px;height:6px;background:linear-gradient(90deg,#000084 0px,#00008f 575px,#0000ff 724px,#0080ff 878px,#00feff 1002px,#00ffc7 1074px,#00ff5a 1181px,#20ff55 1182px,#39ff51 1183px,#66ff45 1199px,#7fff33 1211px,#b2ff00 1249px,#cdff00 1271px,#feff00 1300px,#ffb700 1369px)"></i>
<i style="top:380px;height:6px;background:linear-gradient(90deg,#000084 0px,#00008f 576px,#0000ff 725px,#004cff 813px,#007fff 878px,#00ffff 1003px,#00ffc6 1076px,#00ff5a 1182px,#01ff59 1183px,#2eff53 1184px,#3aff51 1185px,#67ff44 1201px,#80ff33 1213px,#b3ff00 1251px,#cdff00 1273px,#ffff00 1302px,#ffb700 1369px)"></i>
<i style="top:385px;height:6px;background:linear-gradient(90deg,#000084 0px,#00008f 577px,#0000ff 726px,#004dff 814px,#0080ff 879px,#00ffff 1004px,#00ffc7 1077px,#00ff5a 1184px,#0fff57 1185px,#38ff52 1186px,#67ff44 1203px,#80ff33 1215px,#b3ff00 1253px,#ccff00 1274px,#ffff00 1304px,#ffb800 1369px)"></i>
<i style="top:390px;height:6px;background:linear-gradient(90deg,#000084 0px,#00008f 578px,#0000ff 727px,#004cff 814px,#007fff 879px,#00feff 1004px,#00ffc7 1078px,#00ff5a 1186px,#39ff51 1188px,#68ff44 1205px,#7fff33 1216px,#b2ff00 1254px,#cdff00 1276px,#feff00 1305px,#ffb900 1369px)"></i>
<i style="top:395px;height:6px;background:linear-gradient(90deg,#000084 0px,#00008f 579px,#0000ff 728px,#004dff 815px,#0080ff 880px,#00feff 1005px,#00ffc7 1079px,#00ff59 1188px,#2cff53 1189px,#3aff51 1190px,#66ff45 1206px,#7fff33 1218px,#b3ff00 1256px,#cdff00 1278px,#feff00 1307px,#ffba00 1369px)"></i>
<i style="top:400px;height:6px;background:linear-gradient(90deg,#000084 0px,#00008f 580px,#0000ff 729px,#004cff 815px,#0080ff 881px,#00feff 1006px,#00ffc7 1080px,#00ff5a 1189px,#0dff57 1190px,#38ff52 1191px,#67ff44 1208px,#80ff33 1220px,#b3ff00 1258px,#ccff00 1279px,#ffff00 1309px,#ffbb00 1369px)"></i>
<i style="top:405px;height:6px;background:linear-gradient(90deg,#000084 0px,#00008f 581px,#0000ff 730px,#004dff 816px,#007fff 881px,#00ffff 1007px,#00ffc7 1081px,#00ff5a 1191px,#39ff51 1193px,#66ff45 1209px,#80ff32 1222px,#b2ff01 1259px,#ccff00 1281px,#ffff00 1311px,#ffbc00 1369px)"></i>
<i style="top:410px;height:6px;background:linear-gradient(90deg,#000084 0px,#00008f 582px,#0000ff 731px,#004cff 816px,#0080ff 882px,#00ffff 1008px,#00ffc7 1082px,#00ff5a 1192px,#03ff59 1193px,#30ff53 1194px,#3aff51 1195px,#67ff44 1211px,#80ff33 1223px,#b3ff00 1261px,#cdff00 1283px,#ffff00 1312px,#ffbc00 1369px)"></i>
<i style="top:415px;height:6px;background:linear-gradient(90deg,#000084 0px,#00008f 583px,#0000ff 732px,#004cff 817px,#007fff 882px,#00feff 1008px,#00ffc7 1083px,#00ff59 1194px,#22ff55 1195px,#3aff51 1196px,#66ff45 1212px,#7fff33 1224px,#b2ff00 1262px,#cdff00 1284px,#feff00 1313px,#ffbb00 1369px)"></i>
<i style="top:420px;height:6px;background:linear-gradient(90deg,#000084 0px,#00008f 584px,#0000c7 655px,#0000ff 733px,#004dff 818px,#0080ff 883px,#00feff 1009px,#00ffc7 1084px,#00ff5a 1195px,#14ff57 1196px,#39ff51 1197px,#65ff45 1213px,#80ff32 1226px,#b2ff00 1263px,#cdff00 1285px,#feff00 1314px,#ffbb00 1369px)"></i>
<i style="top:425px;height:6px;background:linear-gradient(90deg,#000084 0px,#00008f 585px,#0000c7 655px,#0000ff 734px,#004cff 818px,#007fff 883px,#00ffff 1010px,#00ffc7 1085px,#00ff5a 1196px,#06ff58 1197px,#33ff52 1198px,#3bff51 1199px,#65ff45 1214px,#80ff33 1227px,#b2ff01 1264px,#cdff00 1286px,#feff00 1315px,#ffba00 1369px)"></i>
<i style="top:430px;height:6px;background:linear-gradient(90deg,#000084 0px,#00008f 585px,#0000c7 656px,#0000ff 735px,#004dff 819px,#0080ff 884px,#00ffff 1011px,#00ffc7 1086px,#00ff59 1198px,#24ff54 1199px,#3aff51 1200px,#66ff45 1216px,#80ff33 1228px,#b3ff00 1266px,#ccff00 1287px,#feff00 1316px,#ffba00 1369px)"></i>
<i style="top:435px;height:6px;background:linear-gradient(90deg,#000084 0px,#00008f 585px,#0000c7 656px,#0000ff 736px,#004cff 819px,#0080ff 885px,#00ffff 1012px,#00ffc6 1088px,#00ff5a 1199px,#16ff56 1200px,#39ff51 1201px,#66ff45 1217px,#7fff33 1229px,#b3ff00 1267px,#ccff00 1288px,#ffff00 1318px,#ffb900 1369px)"></i>
<i style="top:440px;height:6px;background:linear-gradient(90deg,#000084 0px,#00008f 585px,#0000c7 657px,#0000ff 737px,#004dff 820px,#007fff 885px,#00feff 1012px,#00ffc7 1088px,#00ff5a 1200px,#09ff58 1201px,#36ff52 1202px,#3bff51 1203px,#65ff45 1218px,#80ff32 1231px,#b3ff00 1268px,#ccff00 1289px,#ffff00 1319px,#ffb800 1369px)"></i>
<i style="top:445px;height:6px;background:linear-gradient(90deg,#000084 0px,#00008f 585px,#0000c7 657px,#0000ff 738px,#004cff 820px,#0080ff 886px,#00feff 1013px,#00ffc7 1089px,#00ff59 1202px,#27ff54 1203px,#3aff51 1204px,#67ff44 1220px,#80ff33 1232px,#b2ff00 1269px,#ccff00 1290px,#ffff00 1320px,#ffb800 1369px)"></i>
<i style="top:450px;height:6px;background:linear-gradient(90deg,#000084 0px,#00008f 585px,#0000c7 658px,#0000ff 739px,#004dff 821px,#007fff 886px,#00ffff 1014px,#00ffc7 1090px,#00ff5a 1203px,#19ff56 1204px,#39ff51 1205px,#66ff45 1221px,#80ff33 1233px,#b2ff00 1270px,#cdff00 1292px,#ffff00 1321px,#ffb700 1369px)"></i>
<i style="top:455px;height:6px;background:linear-gradient(90deg,#000084 0px,#00008f 585px,#0000ff 740px,#004cff 821px,#0080ff 887px,#00ffff 1015px,#00ffc6 1092px,#00ff5a 1204px,#0cff58 1205px,#38ff52 1206px,#66ff45 1222px,#7fff33 1234px,#b2ff01 1271px,#cdff00 1293px,#ffff00 1322px,#ffb700 1369px)"></i>
<i style="top:460px;height:6px;background:linear-gradient(90deg,#000084 0px,#00008f 585px,#0000ff 740px,#004cff 822px,#0080ff 888px,#00ffff 1016px,#00ffc6 1093px,#00ff59 1206px,#2aff53 1207px,#3aff51 1208px,#65ff45 1223px,#80ff32 1236px,#b3ff00 1273px,#cdff00 1294px,#ffff00 1323px,#ffb600 1369px)"></i>
<i style="top:465px;height:6px;background:linear-gradient(90deg,#000084 0px,#00008f 585px,#0000ff 741px,#004dff 823px,#0080ff 888px,#00feff 1016px,#00ffc7 1093px,#00ff5a 1207px,#39ff51 1209px,#67ff44 1225px,#80ff33 1237px,#b3ff00 1274px,#cdff00 1295px,#ffff00 1324px,#ffb600 1369px)"></i>
<i style="top:470px;height:6px;background:linear-gradient(90deg,#000084 0px,#00008f 585px,#0000ff 742px,#004cff 823px,#0080ff 889px,#00feff 1017px,#00ffc7 1094px,#00ff5a 1208px,#0eff57 1209px,#38ff52 1210px,#66ff45 1226px,#80ff33 1238px,#b3ff00 1275px,#cdff00 1296px,#ffff00 1325px,#ffb500 1369px)"></i>
<i style="top:475px;height:6px;background:linear-gradient(90deg,#000084 0px,#00008f 585px,#0000ff 743px,#004dff 824px,#007fff 889px,#00ffff 1018px,#00ffc7 1095px,#00ff5a 1208px,#0bff58 1209px,#38ff52 1210px,#66ff45 1226px,#80ff33 1238px,#b3ff00 1275px,#cdff00 1296px,#ffff00 1325px,#ffb300 1369px)"></i>
<i style="top:480px;height:6px;background:linear-gradient(90deg,#000084 0px,#00008f 585px,#0000ff 744px,#004cff 824px,#0080ff 890px,#00ffff 1019px,#00ffc7 1095px,#00ff5a 1207px,#0eff57 1208px,#38ff52 1209px,#66ff45 1225px,#80ff33 1237px,#b2ff01 1273px,#ccff00 1294px,#ffff00 1323px,#fffb00 1327px,#ffaf00 1369px)"></i>
<i style="top:485px;height:6px;background:linear-gradient(90deg,#000084 0px,#00008f 585px,#0000ff 745px,#004dff 825px,#007fff 890px,#00ffff 1020px,#00ffc7 1095px,#00ff5a 1206px,#11ff57 1207px,#39ff51 1208px,#67ff44 1224px,#80ff32 1236px,#b2ff00 1272px,#cdff00 1293px,#ffff00 1322px,#ffac00 1369px)"></i>
<i style="top:490px;height:6px;background:linear-gradient(90deg,#000084 0px,#00008f 585px,#0000ff 746px,#004cff 825px,#0080ff 891px,#00feff 1020px,#00ffc7 1095px,#00ff5a 1205px,#14ff56 1206px,#39ff51 1207px,#67ff44 1223px,#80ff32 1235px,#b3ff00 1271px,#cdff00 1292px,#ffff00 1320px,#fffb00 1324px,#ffa800 1369px)"></i>
<i style="top:495px;height:6px;background:linear-gradient(90deg,#000084 0px,#00008f 585px,#0000ff 747px,#004dff 826px,#0080ff 892px,#00feff 1021px,#00ffc7 1095px,#00ff5a 1204px,#17ff56 1205px,#39ff51 1206px,#65ff45 1221px,#7fff33 1233px,#b3ff00 1270px,#ccff00 1290px,#ffff00 1319px,#ffa400 1369px)"></i>
<i style="top:500px;height:6px;background:linear-gradient(90deg,#000084 0px,#00008f 585px,#0000ff 748px,#004cff 826px,#0080ff 892px,#00ffff 1022px,#00ffc7 1095px,#00ff5a 1203px,#39ff51 1205px,#65ff45 1220px,#80ff33 1232px,#b2ff00 1268px,#cdff00 1289px,#ffff00 1317px,#fffb00 1321px,#ffa000 1369px)"></i>
<i style="top:505px;height:6px;background:linear-gradient(90deg,#000084 0px,#00008f 585px,#0000ff 747px,#004cff 826px,#0080ff 892px,#00ffff 1023px,#00ffc7 1095px,#00ff5a 1202px,#39ff51 1204px,#65ff45 1219px,#80ff33 1231px,#b3ff00 1267px,#ccff00 1287px,#ffff00 1316px,#ff9d00 1369px)"></i>
<i style="top:510px;height:6px;background:linear-gradient(90deg,#000084 0px,#00008f 585px,#0000ff 747px,#004dff 826px,#0080ff 892px,#00feff 1023px,#00ffc7 1095px,#00ff5a 1201px,#22ff55 1202px,#3aff51 1203px,#66ff45 1218px,#80ff32 1230px,#b3ff00 1266px,#cdff00 1286px,#ffff00 1314px,#fffb00 1318px,#ff9900 1369px)"></i>
<i style="top:515px;height:6px;background:linear-gradient(90deg,#000084 0px,#00008f 584px,#0000ff 746px,#004dff 826px,#007fff 891px,#00ffff 1024px,#00ffc7 1095px,#00ff59 1200px,#25ff54 1201px,#3aff51 1202px,#66ff45 1217px,#80ff32 1229px,#b2ff00 1264px,#cdff00 1285px,#feff00 1312px,#fffc00 1316px,#ff9500 1369px)"></i>
<i style="top:520px;height:6px;background:linear-gradient(90deg,#000084 0px,#00008f 584px,#0000ff 746px,#004dff 826px,#0080ff 891px,#00ffff 1025px,#00ffc7 1095px,#00ff59 1199px,#29ff54 1200px,#3aff51 1201px,#66ff45 1216px,#7fff33 1227px,#b3ff00 1263px,#ccff00 1283px,#ffff00 1311px,#fffb00 1315px,#ff9100 1369px)"></i>
<i style="top:525px;height:6px;background:linear-gradient(90deg,#000084 0px,#00008f 584px,#0000ff 745px,#004dff 826px,#0080ff 891px,#00feff 1025px,#00ffc7 1095px,#00ff59 1198px,#2cff53 1199px,#3aff51 1200px,#67ff44 1215px,#7fff33 1226px,#b2ff01 1261px,#cdff00 1282px,#feff00 1309px,#fffc00 1313px,#ff8e00 1369px)"></i>
<i style="top:530px;height:6px;background:linear-gradient(90deg,#000084 0px,#00008f 584px,#0000ff 745px,#004cff 825px,#0080ff 891px,#00ffff 1026px,#00ffc7 1095px,#00ff59 1197px,#30ff53 1198px,#3bff51 1199px,#67ff44 1214px,#80ff33 1225px,#b2ff00 1260px,#ccff00 1280px,#ffff00 1308px,#fffb00 1312px,#ff8a00 1369px)"></i>
<i style="top:535px;height:6px;background:linear-gradient(90deg,#000084 0px,#00008f 583px,#0000ff 745px,#004cff 825px,#0080ff 891px,#00ffff 1027px,#00ffc7 1095px,#00ff5a 1195px,#03ff59 1196px,#34ff52 1197px,#3bff51 1198px,#67ff44 1213px,#80ff33 1224px,#b3ff00 1259px,#cdff00 1279px,#feff00 1306px,#fffb00 1310px,#ff8600 1369px)"></i>
<i style="top:540px;height:6px;background:linear-gradient(90deg,#000084 0px,#00008f 583px,#0000ff 744px,#004cff 825px,#007fff 890px,#00feff 1027px,#00ffc7 1096px,#00ff5a 1197px,#18ff56 1198px,#39ff51 1199px,#68ff44 1214px,#7fff33 1224px,#b2ff00 1258px,#ccff00 1277px,#ffff00 1304px,#fffa00 1308px,#ff8300 1369px)"></i>
<i style="top:545px;height:6px;background:linear-gradient(90deg,#000084 0px,#00008f 583px,#0000ff 744px,#004dff 825px,#0080ff 890px,#00feff 1028px,#00ffc7 1098px,#00ff5a 1200px,#03ff59 1201px,#36ff52 1202px,#66ff45 1216px,#7fff33 1226px,#b3ff00 1258px,#cdff00 1276px,#ffff00 1301px,#ff8000 1369px)"></i>
<i style="top:550px;height:6px;background:linear-gradient(90deg,#000084 0px,#00008f 583px,#0000ff 743px,#004dff 825px,#0080ff 890px,#00ffff 1029px,#00ffc6 1100px,#00ff5a 1204px,#3aff51 1206px,#68ff44 1219px,#80ff33 1228px,#b3ff00 1258px,#ceff00 1275px,#fdff00 1297px,#fffb00 1301px,#ff7d00 1369px)"></i>
<i style="top:555px;height:6px;background:linear-gradient(90deg,#000084 0px,#00008f 582px,#0000ff 743px,#004dff 825px,#0080ff 890px,#00ffff 1030px,#00ffc6 1102px,#00ff5a 1207px,#08ff58 1208px,#39ff51 1209px,#66ff45 1221px,#80ff33 1230px,#b2ff00 1257px,#ccff00 1273px,#feff00 1294px,#ff7b00 1369px)"></i>
<i style="top:560px;height:6px;background:linear-gradient(90deg,#000084 0px,#00008f 582px,#0000ff 742px,#004cff 824px,#0080ff 890px,#00feff 1030px,#00ffc7 1103px,#00ff5a 1211px,#24ff54 1212px,#3bff51 1213px,#68ff43 1224px,#80ff32 1232px,#b3ff00 1257px,#ceff00 1272px,#feff00 1291px,#ff7800 1369px)"></i>
<i style="top:565px;height:6px;background:linear-gradient(90deg,#000084 0px,#00008f 582px,#0000c7 658px,#0000ff 742px,#004cff 824px,#007fff 889px,#00ffff 1031px,#00ffc7 1104px,#00ff5a 1212px,#13ff57 1213px,#3aff51 1214px,#66ff45 1224px,#80ff33 1232px,#b3ff00 1256px,#ceff00 1270px,#feff00 1288px,#ff7500 1369px)"></i>
<i style="top:570px;height:6px;background:linear-gradient(90deg,#000084 0px,#00008f 582px,#0000c7 657px,#0000ff 742px,#004cff 824px,#0080ff 889px,#00ffff 1032px,#00ffc7 1104px,#00ff5a 1210px,#09ff58 1211px,#39ff51 1212px,#69ff43 1223px,#80ff32 1230px,#b2ff00 1253px,#ceff00 1267px,#ffff00 1285px,#ff7200 1369px)"></i>
<i style="top:575px;height:6px;background:linear-gradient(90deg,#000084 0px,#00008f 581px,#0000ff 741px,#004cff 824px,#0080ff 889px,#00feff 1032px,#00ffc6 1104px,#00ff59 1209px,#36ff52 1210px,#66ff45 1220px,#81ff32 1228px,#b4ff00 1251px,#cdff00 1264px,#ffff00 1282px,#ff7000 1369px)"></i>
<i style="top:580px;height:6px;background:linear-gradient(90deg,#000084 0px,#00008f 581px,#0000c7 657px,#0000ff 741px,#004dff 824px,#0080ff 889px,#00ffff 1033px,#00ffc7 1103px,#00ff5a 1207px,#25ff54 1208px,#3cff50 1209px,#69ff43 1219px,#81ff32 1226px,#b3ff00 1248px,#cdff00 1261px,#feff00 1278px,#ff6d00 1369px)"></i>
<i style="top:585px;height:6px;background:linear-gradient(90deg,#000084 0px,#00008f 581px,#0000c7 656px,#0000ff 740px,#004dff 824px,#0080ff 889px,#00ffff 1034px,#00ffc7 1103px,#00ff5a 1205px,#16ff56 1206px,#3bff51 1207px,#69ff43 1217px,#7fff33 1223px,#b2ff01 1245px,#cdff00 1258px,#ffff00 1275px,#ff6a00 1369px)"></i>
<i style="top:590px;height:6px;background:linear-gradient(90deg,#000084 0px,#00008f 581px,#0000c7 656px,#0000ff 740px,#004dff 824px,#007fff 888px,#00feff 1034px,#00ffc7 1103px,#00ff5a 1203px,#0bff58 1204px,#3aff51 1205px,#69ff43 1215px,#7fff34 1221px,#b2ff00 1243px,#cdff00 1256px,#ffff00 1273px,#ff6900 1369px)"></i>
<i style="top:595px;height:6px;background:linear-gradient(90deg,#000084 0px,#00008f 580px,#0000c7 655px,#0000ff 739px,#004cff 823px,#007fff 888px,#00ffff 1035px,#00ffc6 1103px,#00ff59 1202px,#38ff51 1203px,#68ff43 1213px,#81ff32 1220px,#b2ff00 1241px,#ceff00 1254px,#feff00 1270px,#ff6700 1369px)"></i>
<i style="top:600px;height:6px;background:linear-gradient(90deg,#000084 0px,#00008f 580px,#0000c7 655px,#0000ff 739px,#004cff 823px,#0080ff 888px,#00ffff 1036px,#00ffc7 1103px,#00ff5a 1201px,#03ff59 1202px,#39ff51 1203px,#66ff45 1212px,#80ff32 1219px,#b3ff00 1240px,#cdff00 1252px,#feff00 1268px,#ff6500 1369px)"></i>
</div>
<div class="hm" style="left:218px;top:1320px;width:1379px;height:710px;clip-path:polygon(0.6px 709.8px,0.6px 674.3px,10.5px 674.3px,10.5px 638.8px,20.4px 638.8px,20.4px 613.5px,30.4px 613.5px,30.4px 588.1px,40.3px 588.1px,40.3px 567.8px,50.2px 567.8px,50.2px 547.6px,60.1px 547.6px,60.1px 532.3px,70.0px 532.3px,70.0px 517.1px,79.9px 517.1px,79.9px 501.9px,89.8px 501.9px,89.8px 491.8px,99.7px 491.8px,99.7px 476.6px,109.7px 476.6px,109.7px 466.4px,119.6px 466.4px,119.6px 451.2px,129.5px 451.2px,129.5px 441.1px,139.4px 441.1px,139.4px 431.0px,149.3px 431.0px,149.3px 420.8px,159.2px 420.8px,159.2px 410.7px,169.1px 410.7px,169.1px 400.5px,179.1px 400.5px,179.1px 390.4px,189.0px 390.4px,189.0px 385.3px,198.9px 385.3px,198.9px 375.2px,208.8px 375.2px,208.8px 365.0px,218.7px 365.0px,218.7px 360.0px,228.6px 360.0px,228.6px 349.8px,238.5px 349.8px,238.5px 344.8px,248.4px 344.8px,248.4px 334.6px,258.4px 334.6px,258.4px 329.5px,268.3px 329.5px,268.3px 319.4px,278.2px 319.4px,278.2px 314.3px,288.1px 314.3px,288.1px 304.2px,298.0px 304.2px,298.0px 299.1px,307.9px 299.1px,307.9px 294.1px,317.8px 294.1px,317.8px 289.0px,327.8px 289.0px,327.8px 278.8px,337.7px 278.8px,337.7px 273.8px,347.6px 273.8px,347.6px 268.7px,357.5px 268.7px,357.5px 263.6px,367.4px 263.6px,367.4px 258.6px,377.3px 258.6px,377.3px 253.5px,387.2px 253.5px,387.2px 248.4px,397.1px 248.4px,397.1px 238.3px,407.1px 238.3px,407.1px 233.2px,417.0px 233.2px,417.0px 228.2px,426.9px 228.2px,426.9px 223.1px,436.8px 223.1px,436.8px 218.0px,446.7px 218.0px,446.7px 212.9px,456.6px 212.9px,456.6px 207.9px,466.5px 207.9px,466.5px 207.9px,476.5px 207.9px,476.5px 202.8px,486.4px 202.8px,486.4px 197.7px,496.3px 197.7px,496.3px 192.7px,506.2px 192.7px,506.2px 187.6px,516.1px 187.6px,516.1px 182.5px,526.0px 182.5px,526.0px 177.4px,535.9px 177.4px,535.9px 172.4px,545.8px 172.4px,545.8px 172.4px,555.8px 172.4px,555.8px 167.3px,565.7px 167.3px,565.7px 162.2px,575.6px 162.2px,575.6px 157.2px,585.5px 157.2px,585.5px 152.1px,595.4px 152.1px,595.4px 152.1px,605.3px 152.1px,605.3px 147.0px,615.2px 147.0px,615.2px 142.0px,625.2px 142.0px,625.2px 142.0px,635.1px 142.0px,635.1px 136.9px,645.0px 136.9px,645.0px 131.8px,654.9px 131.8px,654.9px 131.8px,664.8px 131.8px,664.8px 126.8px,674.7px 126.8px,674.7px 121.7px,684.6px 121.7px,684.6px 121.7px,694.5px 121.7px,694.5px 116.6px,704.5px 116.6px,704.5px 111.5px,714.4px 111.5px,714.4px 111.5px,724.3px 111.5px,724.3px 106.5px,734.2px 106.5px,734.2px 106.5px,744.1px 106.5px,744.1px 101.4px,754.0px 101.4px,754.0px 96.3px,763.9px 96.3px,763.9px 96.3px,773.9px 96.3px,773.9px 91.3px,783.8px 91.3px,783.8px 91.3px,793.7px 91.3px,793.7px 86.2px,803.6px 86.2px,803.6px 86.2px,813.5px 86.2px,813.5px 81.1px,823.4px 81.1px,823.4px 81.1px,833.3px 81.1px,833.3px 76.1px,843.2px 76.1px,843.2px 76.1px,853.2px 76.1px,853.2px 71.0px,863.1px 71.0px,863.1px 71.0px,873.0px 71.0px,873.0px 65.9px,882.9px 65.9px,882.9px 65.9px,892.8px 65.9px,892.8px 65.9px,902.7px 65.9px,902.7px 60.8px,912.6px 60.8px,912.6px 60.8px,922.6px 60.8px,922.6px 55.8px,932.5px 55.8px,932.5px 55.8px,942.4px 55.8px,942.4px 55.8px,952.3px 55.8px,952.3px 50.7px,962.2px 50.7px,962.2px 50.7px,972.1px 50.7px,972.1px 45.6px,982.0px 45.6px,982.0px 45.6px,991.9px 45.6px,991.9px 45.6px,1001.9px 45.6px,1001.9px 40.6px,1011.8px 40.6px,1011.8px 40.6px,1021.7px 40.6px,1021.7px 40.6px,1031.6px 40.6px,1031.6px 35.5px,1041.5px 35.5px,1041.5px 35.5px,1051.4px 35.5px,1051.4px 35.5px,1061.3px 35.5px,1061.3px 30.4px,1071.3px 30.4px,1071.3px 30.4px,1081.2px 30.4px,1081.2px 30.4px,1091.1px 30.4px,1091.1px 30.4px,1101.0px 30.4px,1101.0px 25.3px,1110.9px 25.3px,1110.9px 25.3px,1120.8px 25.3px,1120.8px 25.3px,1130.7px 25.3px,1130.7px 25.3px,1140.6px 25.3px,1140.6px 20.3px,1150.6px 20.3px,1150.6px 20.3px,1160.5px 20.3px,1160.5px 20.3px,1170.4px 20.3px,1170.4px 20.3px,1180.3px 20.3px,1180.3px 20.3px,1190.2px 20.3px,1190.2px 15.2px,1200.1px 15.2px,1200.1px 15.2px,1210.0px 15.2px,1210.0px 15.2px,1220.0px 15.2px,1220.0px 15.2px,1229.9px 15.2px,1229.9px 15.2px,1239.8px 15.2px,1239.8px 10.1px,1249.7px 10.1px,1249.7px 10.1px,1259.6px 10.1px,1259.6px 10.1px,1269.5px 10.1px,1269.5px 10.1px,1279.4px 10.1px,1279.4px 10.1px,1289.3px 10.1px,1289.3px 10.1px,1299.3px 10.1px,1299.3px 10.1px,1309.2px 10.1px,1309.2px 5.1px,1319.1px 5.1px,1319.1px 5.1px,1329.0px 5.1px,1329.0px 5.1px,1338.9px 5.1px,1338.9px 5.1px,1348.8px 5.1px,1348.8px 5.1px,1358.7px 5.1px,1358.7px 5.1px,1368.7px 5.1px,1368.7px 5.1px,1378.6px 5.1px,1378.6px 709.8px);background:linear-gradient(90deg,#000aff 0.6px 22.2px,#0014ff 22.2px 43.8px,#001eff 43.8px 65.4px,#0028ff 65.4px 87.1px,#0032ff 87.1px 108.7px,#003cff 108.7px 130.3px,#0046ff 130.3px 151.9px,#0050ff 151.9px 173.5px,#005aff 173.5px 195.1px,#0063ff 195.1px 216.7px,#006dff 216.7px 238.3px,#0077ff 238.3px 259.9px,#0081ff 259.9px 281.6px,#008bff 281.6px 303.2px,#0095ff 303.2px 324.8px,#009fff 324.8px 346.4px,#00a9ff 346.4px 368.0px,#00b3ff 368.0px 389.6px,#00bdff 389.6px 411.2px,#00c7ff 411.2px 432.8px,#00d1ff 432.8px 454.4px,#00dbff 454.4px 476.1px,#00e5ff 476.1px 497.7px,#00efff 497.7px 519.3px,#00f8ff 519.3px 540.9px,#00fffc 540.9px 562.5px,#00fff2 562.5px 584.1px,#00ffe9 584.1px 605.7px,#00ffe0 605.7px 627.3px,#00ffd6 627.3px 648.9px,#00ffcd 648.9px 670.6px,#00ffc2 670.6px 692.2px,#00ffb6 692.2px 713.8px,#00ffab 713.8px 735.4px,#00ff9f 735.4px 757.0px,#00ff92 757.0px 778.6px,#00ff86 778.6px 800.2px,#00ff79 800.2px 821.8px,#00ff6c 821.8px 843.4px,#00ff60 843.4px 865.1px,#46ff4d 865.1px 886.7px,#67ff44 886.7px 908.3px,#80ff33 908.3px 929.9px,#8fff24 929.9px 951.5px,#9fff14 951.5px 973.1px,#b1ff02 973.1px 994.7px,#c0ff00 994.7px 1016.3px,#cfff00 1016.3px 1037.9px,#e1ff00 1037.9px 1059.6px,#f7ff00 1059.6px 1081.2px,#fff800 1081.2px 1102.8px,#ffef00 1102.8px 1124.4px,#ffe500 1124.4px 1146.0px,#ffdb00 1146.0px 1167.6px,#ffd100 1167.6px 1189.2px,#ffc800 1189.2px 1210.8px,#ffbe00 1210.8px 1232.4px,#ffb400 1232.4px 1254.1px,#ffaa00 1254.1px 1275.7px,#ffa000 1275.7px 1297.3px,#ff9700 1297.3px 1318.9px,#ff8d00 1318.9px 1340.5px,#ff8300 1340.5px 1362.1px,#ff7a00 1362.1px 1378.6px)"></div>
<div class="hm" style="left:228px;top:2633px;width:1369px;height:605px;clip-path:polygon(0.5px 604.7px,0.5px 594.6px,10.4px 594.6px,10.4px 584.4px,20.4px 584.4px,20.4px 569.2px,30.3px 569.2px,30.3px 554.0px,40.2px 554.0px,40.2px 538.7px,50.1px 538.7px,50.1px 523.5px,60.0px 523.5px,60.0px 508.3px,69.9px 508.3px,69.9px 493.0px,79.8px 493.0px,79.8px 477.8px,89.7px 477.8px,89.7px 462.6px,99.7px 462.6px,99.7px 447.4px,109.6px 447.4px,109.6px 432.1px,119.5px 432.1px,119.5px 416.9px,129.4px 416.9px,129.4px 401.7px,139.3px 401.7px,139.3px 386.4px,149.2px 386.4px,149.2px 371.2px,159.1px 371.2px,159.1px 356.0px,169.1px 356.0px,169.1px 340.7px,179.0px 340.7px,179.0px 325.5px,188.9px 325.5px,188.9px 310.3px,198.8px 310.3px,198.8px 295.1px,208.7px 295.1px,208.7px 279.8px,218.6px 279.8px,218.6px 264.6px,228.5px 264.6px,228.5px 249.4px,238.4px 249.4px,238.4px 234.1px,248.4px 234.1px,248.4px 224.0px,258.3px 224.0px,258.3px 213.8px,268.2px 213.8px,268.2px 208.8px,278.1px 208.8px,278.1px 198.6px,288.0px 198.6px,288.0px 198.6px,297.9px 198.6px,297.9px 193.5px,307.8px 193.5px,307.8px 188.4px,317.8px 188.4px,317.8px 183.4px,327.7px 183.4px,327.7px 183.4px,337.6px 183.4px,337.6px 178.3px,347.5px 178.3px,347.5px 173.2px,357.4px 173.2px,357.4px 173.2px,367.3px 173.2px,367.3px 168.1px,377.2px 168.1px,377.2px 163.1px,387.1px 163.1px,387.1px 158.0px,397.1px 158.0px,397.1px 158.0px,407.0px 158.0px,407.0px 152.9px,416.9px 152.9px,416.9px 147.8px,426.8px 147.8px,426.8px 147.8px,436.7px 147.8px,436.7px 142.8px,446.6px 142.8px,446.6px 137.7px,456.5px 137.7px,456.5px 137.7px,466.5px 137.7px,466.5px 132.6px,476.4px 132.6px,476.4px 127.5px,486.3px 127.5px,486.3px 122.4px,496.2px 122.4px,496.2px 122.4px,506.1px 122.4px,506.1px 117.4px,516.0px 117.4px,516.0px 112.3px,525.9px 112.3px,525.9px 112.3px,535.8px 112.3px,535.8px 107.2px,545.8px 107.2px,545.8px 102.1px,555.7px 102.1px,555.7px 102.1px,565.6px 102.1px,565.6px 97.1px,575.5px 97.1px,575.5px 92.0px,585.4px 92.0px,585.4px 86.9px,595.3px 86.9px,595.3px 86.9px,605.2px 86.9px,605.2px 81.8px,615.2px 81.8px,615.2px 76.8px,625.1px 76.8px,625.1px 76.8px,635.0px 76.8px,635.0px 71.7px,644.9px 71.7px,644.9px 66.6px,654.8px 66.6px,654.8px 61.5px,664.7px 61.5px,664.7px 61.5px,674.6px 61.5px,674.6px 56.5px,684.5px 56.5px,684.5px 51.4px,694.5px 51.4px,694.5px 51.4px,704.4px 51.4px,704.4px 46.3px,714.3px 46.3px,714.3px 41.2px,724.2px 41.2px,724.2px 41.2px,734.1px 41.2px,734.1px 36.1px,744.0px 36.1px,744.0px 31.1px,753.9px 31.1px,753.9px 26.0px,763.9px 26.0px,763.9px 26.0px,773.8px 26.0px,773.8px 26.0px,783.7px 26.0px,783.7px 26.0px,793.6px 26.0px,793.6px 26.0px,803.5px 26.0px,803.5px 26.0px,813.4px 26.0px,813.4px 26.0px,823.3px 26.0px,823.3px 26.0px,833.2px 26.0px,833.2px 26.0px,843.2px 26.0px,843.2px 26.0px,853.1px 26.0px,853.1px 20.9px,863.0px 20.9px,863.0px 20.9px,872.9px 20.9px,872.9px 20.9px,882.8px 20.9px,882.8px 20.9px,892.7px 20.9px,892.7px 20.9px,902.6px 20.9px,902.6px 20.9px,912.6px 20.9px,912.6px 20.9px,922.5px 20.9px,922.5px 20.9px,932.4px 20.9px,932.4px 20.9px,942.3px 20.9px,942.3px 20.9px,952.2px 20.9px,952.2px 20.9px,962.1px 20.9px,962.1px 15.8px,972.0px 15.8px,972.0px 15.8px,981.9px 15.8px,981.9px 15.8px,991.9px 15.8px,991.9px 15.8px,1001.8px 15.8px,1001.8px 15.8px,1011.7px 15.8px,1011.7px 15.8px,1021.6px 15.8px,1021.6px 15.8px,1031.5px 15.8px,1031.5px 15.8px,1041.4px 15.8px,1041.4px 15.8px,1051.3px 15.8px,1051.3px 15.8px,1061.3px 15.8px,1061.3px 15.8px,1071.2px 15.8px,1071.2px 15.8px,1081.1px 15.8px,1081.1px 10.8px,1091.0px 10.8px,1091.0px 10.8px,1100.9px 10.8px,1100.9px 10.8px,1110.8px 10.8px,1110.8px 10.8px,1120.7px 10.8px,1120.7px 10.8px,1130.6px 10.8px,1130.6px 10.8px,1140.6px 10.8px,1140.6px 10.8px,1150.5px 10.8px,1150.5px 10.8px,1160.4px 10.8px,1160.4px 10.8px,1170.3px 10.8px,1170.3px 10.8px,1180.2px 10.8px,1180.2px 10.8px,1190.1px 10.8px,1190.1px 10.8px,1200.0px 10.8px,1200.0px 5.7px,1210.0px 5.7px,1210.0px 5.7px,1219.9px 5.7px,1219.9px 5.7px,1229.8px 5.7px,1229.8px 5.7px,1239.7px 5.7px,1239.7px 5.7px,1249.6px 5.7px,1249.6px 5.7px,1259.5px 5.7px,1259.5px 5.7px,1269.4px 5.7px,1269.4px 5.7px,1279.3px 5.7px,1279.3px 5.7px,1289.3px 5.7px,1289.3px 5.7px,1299.2px 5.7px,1299.2px 5.7px,1309.1px 5.7px,1309.1px 5.7px,1319.0px 5.7px,1319.0px 0.6px,1328.9px 0.6px,1328.9px 0.6px,1338.8px 0.6px,1338.8px 0.6px,1348.7px 0.6px,1348.7px 0.6px,1358.7px 0.6px,1358.7px 0.6px,1368.6px 0.6px,1368.6px 604.7px)">
<i style="top:0px;height:6px;background:linear-gradient(90deg,#008aff 0px,#008aff 873px,#0040ff 1111px,#0049ff 1161px,#0000ff 1332px,#0000f0 1369px)"></i>
<i style="top:5px;height:6px;background:linear-gradient(90deg,#009eff 0px,#009eff 778px,#0097ff 873px,#0045ff 1111px,#0049ff 1161px,#0000ff 1332px,#0000f0 1369px)"></i>
<i style="top:10px;height:6px;background:linear-gradient(90deg,#00b5ff 0px,#00b5ff 779px,#00a6ff 873px,#0090ff 937px,#004bff 1111px,#004eff 1161px,#0000ff 1339px,#0000f2 1369px)"></i>
<i style="top:15px;height:6px;background:linear-gradient(90deg,#00ccff 0px,#00ccff 779px,#00bbff 853px,#009fff 937px,#0050ff 1111px,#0054ff 1161px,#0000ff 1345px,#0000f4 1369px)"></i>
<i style="top:20px;height:6px;background:linear-gradient(90deg,#00dfff 0px,#00deff 779px,#00caff 853px,#00adff 937px,#0059ff 1111px,#005aff 1161px,#0000ff 1352px,#0000f7 1369px)"></i>
<i style="top:25px;height:6px;background:linear-gradient(90deg,#00ecff 0px,#00ecff 724px,#00e5ff 779px,#00d5ff 853px,#00baff 938px,#0068ff 1110px,#0060ff 1161px,#0000ff 1357px,#0000f9 1369px)"></i>
<i style="top:30px;height:6px;background:linear-gradient(90deg,#00f8ff 0px,#00f8ff 724px,#00dbff 873px,#00baff 978px,#0098ff 1040px,#0077ff 1111px,#0067ff 1161px,#0000ff 1362px,#0000fc 1369px)"></i>
<i style="top:35px;height:6px;background:linear-gradient(90deg,#00fff9 0px,#00fff9 724px,#00ffff 741px,#00f4ff 772px,#00e7ff 873px,#00caff 978px,#00a7ff 1040px,#0037ff 1269px,#0000fe 1369px)"></i>
<i style="top:40px;height:6px;background:linear-gradient(90deg,#00ffee 0px,#00ffee 724px,#00ffff 766px,#00f2ff 873px,#00d8ff 978px,#00b4ff 1040px,#0093ff 1111px,#0073ff 1161px,#003cff 1269px,#0002ff 1369px)"></i>
<i style="top:45px;height:6px;background:linear-gradient(90deg,#00ffe5 0px,#00ffe6 724px,#00fff8 772px,#00fbff 873px,#00deff 978px,#00bbff 1040px,#0095ff 1121px,#0079ff 1161px,#0041ff 1269px,#0004ff 1369px)"></i>
<i style="top:50px;height:6px;background:linear-gradient(90deg,#00ffdb 0px,#00ffde 724px,#00ffee 772px,#00ffff 890px,#00e5ff 978px,#00c2ff 1040px,#00a2ff 1111px,#007fff 1161px,#0046ff 1269px,#0007ff 1369px)"></i>
<i style="top:55px;height:6px;background:linear-gradient(90deg,#00ffd1 0px,#00ffd1 575px,#00ffd6 724px,#00ffe5 772px,#00fff2 873px,#00ffff 917px,#00ebff 978px,#00d3ff 1020px,#00a9ff 1111px,#0086ff 1160px,#004bff 1269px,#000aff 1369px)"></i>
<i style="top:60px;height:6px;background:linear-gradient(90deg,#00ffc8 0px,#00ffc8 575px,#00ffce 724px,#00ffdb 772px,#00ffe9 873px,#00ffff 940px,#00f1ff 978px,#00daff 1019px,#00b0ff 1111px,#008cff 1161px,#004fff 1270px,#000cff 1369px)"></i>
<i style="top:65px;height:6px;background:linear-gradient(90deg,#00ffbc 0px,#00ffbc 575px,#00ffc6 724px,#00ffd2 772px,#00ffe0 873px,#00ffff 960px,#00e0ff 1019px,#00b7ff 1111px,#0092ff 1161px,#0054ff 1270px,#000fff 1369px)"></i>
<i style="top:70px;height:6px;background:linear-gradient(90deg,#00ffb0 0px,#00ffb0 575px,#00ffbc 724px,#00ffc8 772px,#00ffd8 873px,#00ffff 976px,#00e6ff 1019px,#00d3ff 1071px,#00b9ff 1121px,#0099ff 1161px,#0059ff 1270px,#0011ff 1369px)"></i>
<i style="top:75px;height:6px;background:linear-gradient(90deg,#00ffa4 0px,#00ffa4 575px,#00ffb1 724px,#00ffcf 873px,#00ffff 987px,#00edff 1019px,#00daff 1071px,#00c0ff 1121px,#009fff 1161px,#005eff 1270px,#0035ff 1329px,#0014ff 1369px)"></i>
<i style="top:80px;height:6px;background:linear-gradient(90deg,#00ff98 0px,#00ff98 576px,#00ffa7 724px,#00ffc6 872px,#00ffff 998px,#00f3ff 1019px,#00e2ff 1071px,#00c7ff 1121px,#00a6ff 1160px,#008aff 1211px,#003aff 1328px,#0017ff 1369px)"></i>
<i style="top:85px;height:6px;background:linear-gradient(90deg,#00ff8b 0px,#00ff8b 576px,#00ffa4 771px,#00ffbc 873px,#00ffff 1009px,#00e9ff 1071px,#00ceff 1121px,#00adff 1160px,#0090ff 1211px,#003eff 1328px,#0019ff 1369px)"></i>
<i style="top:90px;height:6px;background:linear-gradient(90deg,#00ff80 0px,#00ff80 576px,#00ff99 772px,#00ffb1 873px,#00ffff 1024px,#00f1ff 1071px,#00d6ff 1121px,#00b3ff 1160px,#0096ff 1211px,#0042ff 1328px,#001cff 1369px)"></i>
<i style="top:95px;height:6px;background:linear-gradient(90deg,#00ff82 0px,#00ff7e 575px,#00ff8f 771px,#00ffa4 873px,#00ffef 1019px,#00ffff 1065px,#00e5ff 1111px,#00b9ff 1160px,#009cff 1211px,#0072ff 1270px,#0046ff 1329px,#001fff 1369px)"></i>
<i style="top:100px;height:6px;background:linear-gradient(90deg,#00ff84 0px,#00ff84 476px,#00ff7d 576px,#00ff85 772px,#00ff97 873px,#00ffff 1085px,#00e3ff 1123px,#00c0ff 1160px,#00a2ff 1211px,#004bff 1328px,#0021ff 1369px)"></i>
<i style="top:105px;height:6px;background:linear-gradient(90deg,#00ff85 0px,#00ff85 476px,#00ff7b 576px,#00ff7b 778px,#00ff89 873px,#00ffa0 932px,#00ffd2 1019px,#00ffe1 1053px,#00ffff 1099px,#00c6ff 1160px,#00a8ff 1211px,#004eff 1329px,#0024ff 1369px)"></i>
<i style="top:110px;height:6px;background:linear-gradient(90deg,#00ff87 0px,#00ff87 476px,#00ff79 587px,#00ff71 712px,#00ff71 779px,#00ff7b 873px,#00ff8f 933px,#00ffa8 984px,#00ffc2 1019px,#00ffd4 1053px,#00ffff 1110px,#00ccff 1160px,#00aeff 1211px,#0052ff 1329px,#0026ff 1369px)"></i>
<i style="top:115px;height:6px;background:linear-gradient(90deg,#00ff89 0px,#00ff89 476px,#00ff78 576px,#00ff69 712px,#00ff67 779px,#00ff6e 873px,#00ff7d 932px,#00ff95 984px,#00ffc7 1053px,#00ffff 1118px,#00d3ff 1160px,#00b5ff 1211px,#0056ff 1329px,#0029ff 1369px)"></i>
<i style="top:120px;height:6px;background:linear-gradient(90deg,#00ff8b 0px,#00ff8b 476px,#00ff61 712px,#00ff5c 779px,#00ff61 882px,#00ff6b 932px,#00ff80 984px,#00ffb7 1053px,#00ffff 1125px,#00d9ff 1160px,#00bbff 1211px,#005aff 1329px,#002cff 1369px)"></i>
<i style="top:125px;height:6px;background:linear-gradient(90deg,#00ff8d 0px,#00ff8d 476px,#00ff59 708px,#01ff59 709px,#1bff56 712px,#38ff52 719px,#47ff4d 779px,#47ff4d 883px,#38ff52 926px,#36ff52 927px,#1aff56 932px,#00ff59 934px,#00ff6c 984px,#00ffa6 1053px,#00ffc7 1079px,#00ffff 1132px,#00dfff 1160px,#00c1ff 1211px,#005eff 1329px,#002eff 1369px)"></i>
<i style="top:130px;height:6px;background:linear-gradient(90deg,#00ff8b 0px,#00ff8b 362px,#00ff83 476px,#00ff59 640px,#38ff52 647px,#5aff48 712px,#64ff45 779px,#57ff49 883px,#39ff51 934px,#36ff52 935px,#00ff59 938px,#00ff6b 984px,#00ffa3 1051px,#00ffc7 1080px,#00fffe 1134px,#00e6ff 1160px,#00c7ff 1211px,#0063ff 1328px,#0031ff 1369px)"></i>
<i style="top:135px;height:6px;background:linear-gradient(90deg,#00ff89 0px,#00ff89 362px,#00ff79 476px,#00ff59 574px,#05ff59 575px,#2fff53 578px,#38ff52 579px,#40ff4f 588px,#66ff45 664px,#78ff38 712px,#79ff37 779px,#65ff45 884px,#38ff52 938px,#10ff57 940px,#00ff59 941px,#00ff6b 984px,#00ffa1 1051px,#00ffc7 1081px,#00ffff 1138px,#00eeff 1157px,#00ccff 1211px,#0067ff 1328px,#0033ff 1369px)"></i>
<i style="top:140px;height:6px;background:linear-gradient(90deg,#00ff87 0px,#00ff87 362px,#00ff75 432px,#00ff6f 476px,#00ff5a 535px,#01ff59 536px,#31ff53 539px,#39ff51 540px,#66ff45 588px,#7fff33 657px,#8bff28 711px,#88ff2a 779px,#72ff3c 882px,#66ff45 899px,#4fff4b 923px,#39ff51 940px,#2fff53 941px,#00ff59 943px,#00ff72 996px,#00ffa0 1051px,#00ffc8 1082px,#00ffec 1116px,#00fffe 1140px,#00ceff 1211px,#0068ff 1328px,#0035ff 1369px)"></i>
<i style="top:145px;height:6px;background:linear-gradient(90deg,#00ff85 0px,#00ff85 362px,#00ff6d 432px,#00ff65 476px,#00ff59 505px,#08ff58 506px,#2bff53 508px,#38ff51 509px,#66ff45 551px,#80ff33 583px,#9bff17 712px,#95ff1e 779px,#7dff35 883px,#65ff45 910px,#39ff51 942px,#2fff53 943px,#14ff57 944px,#00ff59 945px,#00ff71 997px,#00ff9e 1051px,#00ffc7 1082px,#00ffe9 1114px,#00ffff 1144px,#00d0ff 1211px,#0069ff 1328px,#0037ff 1369px)"></i>
<i style="top:150px;height:6px;background:linear-gradient(90deg,#00ff83 0px,#00ff83 362px,#00ff65 432px,#00ff59 481px,#38ff52 484px,#65ff45 522px,#80ff33 551px,#93ff20 588px,#afff04 712px,#a3ff0f 779px,#7fff33 892px,#65ff45 917px,#39ff51 944px,#24ff54 945px,#06ff58 946px,#00ff5a 947px,#00ff6f 997px,#00ff9c 1051px,#00ffc6 1082px,#00ffe8 1113px,#00ffff 1148px,#00d3ff 1211px,#0069ff 1329px,#0038ff 1369px)"></i>
<i style="top:155px;height:6px;background:linear-gradient(90deg,#00ff81 0px,#00ff81 362px,#00ff59 447px,#36ff52 452px,#39ff51 453px,#49ff4c 476px,#65ff45 498px,#80ff33 525px,#a6ff0d 587px,#b3ff00 643px,#bfff00 712px,#b3ff00 778px,#8cff27 883px,#7fff33 901px,#66ff45 922px,#39ff51 945px,#2eff53 946px,#0eff57 947px,#00ff59 948px,#00ff6d 997px,#00ff9a 1051px,#00ffc7 1083px,#00ffe8 1113px,#00ffff 1155px,#00d5ff 1211px,#006bff 1329px,#003aff 1369px)"></i>
<i style="top:160px;height:6px;background:linear-gradient(90deg,#00ff7e 0px,#00ff7e 278px,#00ff79 362px,#00ff5a 420px,#07ff58 421px,#36ff52 423px,#39ff51 424px,#45ff4d 432px,#66ff45 476px,#80ff33 502px,#b3ff00 580px,#ccff00 712px,#b3ff00 807px,#92ff21 883px,#80ff33 907px,#67ff44 926px,#39ff51 950px,#36ff52 951px,#01ff59 954px,#00ff5a 955px,#00ff6b 997px,#00ff97 1051px,#00ffc7 1085px,#00ffe6 1113px,#00ffff 1161px,#00d7ff 1211px,#006cff 1329px,#003bff 1369px)"></i>
<i style="top:165px;height:6px;background:linear-gradient(90deg,#00ff7a 0px,#00ff7a 278px,#00ff69 362px,#00ff5a 392px,#07ff58 393px,#32ff52 395px,#39ff51 396px,#68ff44 432px,#80ff33 477px,#b2ff00 559px,#c2ff00 588px,#d8ff00 712px,#b3ff00 824px,#97ff1c 883px,#80ff33 914px,#66ff45 933px,#4aff4c 947px,#38ff52 963px,#03ff59 966px,#00ff5a 967px,#00ff67 997px,#00ff93 1051px,#00ffc6 1089px,#00ffe3 1115px,#00ffff 1166px,#006dff 1329px,#003dff 1369px)"></i>
<i style="top:170px;height:6px;background:linear-gradient(90deg,#00ff77 0px,#00ff77 278px,#00ff66 311px,#00ff59 357px,#05ff59 358px,#35ff52 362px,#39ff51 363px,#65ff45 400px,#80ff33 429px,#8fff23 477px,#b3ff00 536px,#cdff00 588px,#e4ff00 712px,#b2ff00 840px,#9cff17 883px,#7fff33 922px,#66ff45 940px,#57ff49 948px,#38ff52 974px,#00ff59 977px,#00ff62 997px,#00ff8e 1051px,#00ffc8 1094px,#00ffde 1115px,#00ffff 1170px,#006eff 1329px,#003fff 1369px)"></i>
<i style="top:175px;height:6px;background:linear-gradient(90deg,#00ff73 0px,#00ff73 278px,#00ff59 317px,#2fff53 320px,#39ff51 321px,#66ff45 365px,#80ff33 396px,#91ff22 432px,#9fff14 476px,#b3ff00 510px,#dbff00 588px,#f2ff00 712px,#b3ff00 853px,#a2ff11 883px,#80ff33 928px,#66ff45 947px,#39ff51 983px,#35ff52 984px,#0cff58 986px,#00ff59 987px,#00ff89 1051px,#00ffda 1115px,#00fff2 1160px,#00ffff 1173px,#006fff 1329px,#0040ff 1369px)"></i>
<i style="top:180px;height:6px;background:linear-gradient(90deg,#00ff6f 0px,#00ff6f 278px,#00ff59 302px,#26ff54 303px,#39ff51 304px,#48ff4c 310px,#66ff45 332px,#80ff33 358px,#a2ff10 432px,#b3ff00 479px,#ccff00 536px,#eaff00 588px,#ffff00 700px,#ffff00 716px,#ccff00 809px,#b2ff00 865px,#7fff33 936px,#66ff45 958px,#39ff51 992px,#31ff53 993px,#06ff58 995px,#00ff5a 996px,#00ff86 1052px,#00ff9b 1071px,#00ffd5 1114px,#00ffee 1160px,#00ffff 1176px,#0070ff 1329px,#0042ff 1369px)"></i>
<i style="top:185px;height:6px;background:linear-gradient(90deg,#00ff6b 0px,#00ff6b 278px,#00ff5a 294px,#25ff54 295px,#3aff51 296px,#65ff45 311px,#80ff33 332px,#95ff1d 362px,#b3ff00 426px,#ccff00 505px,#fcff00 587px,#ffff00 607px,#fff800 712px,#ffff00 740px,#ccff00 823px,#b3ff00 875px,#80ff33 943px,#66ff45 967px,#3fff4f 996px,#39ff51 999px,#31ff53 1000px,#13ff57 1001px,#00ff5a 1002px,#00ff65 1012px,#00ff80 1051px,#00ff94 1071px,#00ffd1 1115px,#00ffea 1160px,#00ffff 1179px,#0071ff 1329px,#0044ff 1369px)"></i>
<i style="top:190px;height:6px;background:linear-gradient(90deg,#00ff68 0px,#00ff68 278px,#00ff5a 288px,#08ff58 289px,#39ff51 290px,#66ff45 303px,#7aff37 311px,#acff07 362px,#b2ff00 378px,#d0ff00 476px,#ffff00 564px,#fff900 588px,#fff100 711px,#ffff00 761px,#ccff00 835px,#b2ff00 884px,#7fff33 953px,#66ff45 976px,#49ff4c 996px,#39ff51 1004px,#0eff57 1005px,#00ff5a 1006px,#00ff8e 1071px,#00ffcd 1115px,#00ffe7 1160px,#00fffe 1181px,#0073ff 1329px,#0045ff 1369px)"></i>
<i style="top:195px;height:6px;background:linear-gradient(90deg,#00ff64 0px,#00ff64 278px,#00ff5b 284px,#03ff59 285px,#39ff51 286px,#65ff45 297px,#7dff35 305px,#89ff2a 311px,#b3ff00 349px,#c0ff00 363px,#e3ff00 476px,#ffff00 530px,#fff100 588px,#ffeb00 711px,#ffff00 778px,#cdff00 846px,#b3ff00 891px,#7fff33 962px,#66ff45 984px,#54ff49 996px,#4aff4c 1002px,#3aff51 1007px,#00ff5a 1009px,#00ff87 1071px,#00ffc7 1114px,#00ffe3 1160px,#00ffff 1184px,#0061ff 1348px,#0047ff 1369px)"></i>
<i style="top:200px;height:6px;background:linear-gradient(90deg,#00ff60 0px,#00ff60 278px,#00ff5b 281px,#02ff59 282px,#39ff51 283px,#67ff44 293px,#7fff34 300px,#93ff1f 310px,#b2ff00 333px,#d5ff00 363px,#ffff00 488px,#ffea00 587px,#ffe500 711px,#ffff00 792px,#ccff00 857px,#b3ff00 899px,#7fff33 970px,#5dff47 997px,#55ff49 1002px,#3aff51 1010px,#00ff5a 1012px,#00ff67 1037px,#00ff81 1071px,#00ffc5 1117px,#00ffdf 1160px,#00ffff 1186px,#0063ff 1348px,#0048ff 1369px)"></i>
<i style="top:205px;height:6px;background:linear-gradient(90deg,#00ff5b 0px,#00ff59 247px,#38ff52 256px,#41ff4f 278px,#67ff44 287px,#7eff34 294px,#a1ff12 311px,#b3ff00 323px,#ccff00 344px,#e9ff00 363px,#ffff00 416px,#ffdf00 587px,#ffdd00 711px,#ffff00 808px,#ccff00 866px,#b2ff00 906px,#80ff33 974px,#66ff45 994px,#57ff49 1002px,#3bff51 1010px,#30ff53 1011px,#03ff59 1012px,#00ff5a 1013px,#00ff81 1071px,#00ffc2 1116px,#00ffce 1132px,#00ffdb 1160px,#00ffff 1188px,#0064ff 1348px,#004aff 1369px)"></i>
<i style="top:210px;height:6px;background:linear-gradient(90deg,#3cff50 0px,#3dff50 234px,#64ff45 278px,#7fff33 287px,#b3ff00 315px,#cdff00 335px,#ffff00 362px,#ffd200 588px,#ffd600 712px,#ffff00 823px,#ccff00 874px,#b3ff00 911px,#80ff33 977px,#74ff3b 987px,#59ff48 1001px,#39ff51 1010px,#18ff56 1011px,#00ff5a 1012px,#00ff84 1071px,#00ffc1 1115px,#00ffcc 1130px,#00ffd7 1160px,#00ffff 1190px,#0066ff 1348px,#004cff 1369px)"></i>
<i style="top:215px;height:6px;background:linear-gradient(90deg,#49ff4c 0px,#49ff4c 233px,#67ff44 254px,#7fff33 278px,#b3ff00 308px,#ccff00 326px,#ffff00 352px,#fff500 363px,#ffe300 432px,#ffc500 588px,#ffce00 712px,#ffee00 801px,#ffff00 834px,#ccff00 881px,#b3ff00 915px,#77ff39 987px,#58ff48 1001px,#3bff51 1009px,#35ff52 1010px,#00ff59 1011px,#00ff86 1071px,#00ffc3 1118px,#00ffd6 1160px,#00ffff 1191px,#0067ff 1348px,#004dff 1369px)"></i>
<i style="top:220px;height:6px;background:linear-gradient(90deg,#56ff49 0px,#56ff49 233px,#67ff44 242px,#80ff33 259px,#8fff24 278px,#b2ff01 300px,#cdff00 319px,#ffff00 343px,#ffeb00 363px,#ffd700 431px,#ffc600 500px,#ffb900 587px,#ffc600 712px,#ffe700 801px,#ffff00 844px,#ccff00 887px,#b3ff00 919px,#7bff36 987px,#63ff45 997px,#39ff51 1009px,#00ff5a 1011px,#00ff88 1071px,#00ffc3 1118px,#00ffd7 1160px,#00ffff 1191px,#0068ff 1348px,#004dff 1369px)"></i>
<i style="top:225px;height:6px;background:linear-gradient(90deg,#63ff45 0px,#63ff45 233px,#7fff33 248px,#a0ff13 278px,#b3ff00 291px,#ccff00 312px,#ffff00 335px,#ffe100 363px,#ffcb00 431px,#ffb800 500px,#ffac00 587px,#ffbf00 712px,#ffe000 801px,#ffff00 852px,#e5ff00 870px,#cdff00 892px,#b2ff00 923px,#7fff34 987px,#64ff45 997px,#3bff51 1008px,#33ff52 1009px,#01ff59 1010px,#00ff5a 1011px,#00ff8a 1071px,#00ffc4 1118px,#00ffd8 1160px,#00ffff 1192px,#0069ff 1348px,#004eff 1369px)"></i>
<i style="top:230px;height:6px;background:linear-gradient(90deg,#6eff3f 0px,#6eff3f 233px,#80ff32 242px,#b3ff00 277px,#d7ff00 311px,#ffff00 328px,#ffd700 363px,#ffab00 499px,#ff9f00 569px,#ffa300 622px,#ffb700 712px,#ffd900 801px,#ffff00 859px,#e5ff00 876px,#cdff00 897px,#b3ff00 926px,#81ff31 987px,#65ff45 997px,#39ff51 1008px,#17ff56 1009px,#00ff5a 1010px,#00ff8c 1071px,#00ffc5 1119px,#00ffd9 1160px,#00ffff 1192px,#0069ff 1348px,#004eff 1369px)"></i>
<i style="top:235px;height:6px;background:linear-gradient(90deg,#78ff39 0px,#78ff39 233px,#b3ff00 267px,#c1ff00 276px,#e3ff00 311px,#feff00 321px,#ffce00 363px,#ffb200 432px,#ff9d00 499px,#ff9200 569px,#ff9700 622px,#ffaf00 712px,#ffd100 801px,#ffff00 865px,#e6ff00 881px,#ccff00 902px,#b3ff00 929px,#83ff2f 987px,#66ff45 997px,#3aff51 1007px,#2aff53 1008px,#00ff59 1009px,#00ff8f 1071px,#00ffc5 1119px,#00ffda 1160px,#00ffff 1192px,#006aff 1348px,#004fff 1369px)"></i>
<i style="top:240px;height:6px;background:linear-gradient(90deg,#81ff32 0px,#81ff32 233px,#b2ff00 259px,#d2ff00 277px,#f0ff00 310px,#fdff00 315px,#ffc400 363px,#ffa500 432px,#ff8f00 499px,#ff8400 569px,#ff8c00 623px,#ffa700 712px,#ffca00 801px,#ffff00 870px,#cdff00 905px,#b2ff00 933px,#85ff2d 987px,#67ff44 997px,#38ff52 1007px,#0eff57 1008px,#00ff5a 1009px,#00ffa5 1093px,#00ffc5 1119px,#00ffdb 1160px,#00ffff 1192px,#006bff 1348px,#004fff 1369px)"></i>
<i style="top:245px;height:6px;background:linear-gradient(90deg,#86ff2c 0px,#86ff2c 233px,#b4ff00 254px,#e6ff00 277px,#ffff00 309px,#ffba00 363px,#ff9900 432px,#ff8100 499px,#ff7700 569px,#ff8000 622px,#ffc300 801px,#ffff00 875px,#ccff00 909px,#b3ff00 936px,#87ff2b 987px,#7eff34 991px,#68ff44 997px,#3bff51 1006px,#00ff5a 1008px,#00ff7f 1046px,#00ffa5 1093px,#00ffc5 1119px,#00ffdc 1160px,#00ffff 1192px,#006cff 1348px,#0050ff 1369px)"></i>
<i style="top:250px;height:6px;background:linear-gradient(90deg,#8aff29 0px,#8aff29 171px,#8eff25 233px,#b3ff00 249px,#ccff00 261px,#f8ff00 277px,#ffff00 286px,#fff700 311px,#ffb300 363px,#ff9100 432px,#ff7800 499px,#ff6f00 568px,#ff7a00 622px,#ffc000 801px,#ffff00 877px,#ccff00 911px,#b3ff00 938px,#88ff2a 987px,#7fff34 991px,#68ff44 997px,#3aff51 1006px,#0fff57 1007px,#00ff5a 1008px,#00ffa6 1093px,#00ffc6 1119px,#00ffdd 1160px,#00ffff 1192px,#006dff 1348px,#0050ff 1369px)"></i>
<i style="top:255px;height:6px;background:linear-gradient(90deg,#8cff27 0px,#8cff27 171px,#97ff1c 233px,#b4ff00 245px,#cdff00 257px,#ffff00 274px,#ffef00 311px,#ffad00 363px,#ff8b00 432px,#ff7300 499px,#ff6a00 568px,#ff7700 622px,#ffbf00 801px,#ffff00 878px,#ccff00 912px,#b3ff00 939px,#88ff2b 987px,#7eff34 991px,#67ff44 997px,#3aff51 1006px,#0dff58 1007px,#00ff5a 1008px,#00ffa8 1093px,#00ffc7 1118px,#00ffdf 1160px,#00ffff 1193px,#006dff 1348px,#0051ff 1369px)"></i>
<i style="top:260px;height:6px;background:linear-gradient(90deg,#8eff24 0px,#8eff24 171px,#99ff1a 217px,#a2ff10 234px,#b4ff00 241px,#ceff00 253px,#fdff00 269px,#fff500 277px,#ffe700 311px,#ffa800 363px,#ff8600 432px,#ff6e00 499px,#ff6500 568px,#ff7400 623px,#ffbe00 801px,#fffe00 878px,#ccff00 913px,#b2ff00 941px,#87ff2b 987px,#7dff34 991px,#67ff44 997px,#39ff51 1006px,#0bff58 1007px,#00ff5a 1008px,#00ffa9 1093px,#00ffc7 1116px,#00ffe0 1160px,#00ffff 1193px,#006eff 1348px,#0051ff 1369px)"></i>
<i style="top:265px;height:6px;background:linear-gradient(90deg,#90ff22 0px,#90ff22 171px,#9fff14 215px,#adff06 234px,#b2ff00 236px,#ccff00 248px,#ffff00 265px,#ffef00 277px,#ffdf00 311px,#ffa200 363px,#ff7300 466px,#ff6800 500px,#ff6000 568px,#ff7200 623px,#ffbd00 801px,#ffff00 879px,#cdff00 913px,#b3ff00 942px,#87ff2c 987px,#80ff32 990px,#66ff45 997px,#39ff51 1006px,#08ff58 1007px,#00ff5a 1008px,#00ffaa 1093px,#00ffc8 1116px,#00ffe1 1160px,#00ffff 1193px,#006fff 1348px,#0052ff 1369px)"></i>
<i style="top:270px;height:6px;background:linear-gradient(90deg,#92ff20 0px,#92ff20 171px,#99ff19 188px,#a6ff0c 215px,#b5ff00 233px,#ccff00 244px,#feff00 260px,#ffe800 277px,#ffd700 311px,#ff9c00 363px,#ff6d00 466px,#ff6300 500px,#ff5b00 568px,#ffa000 744px,#ffbc00 801px,#ffff00 880px,#e6ff00 895px,#ccff00 914px,#b3ff00 943px,#87ff2c 987px,#80ff33 990px,#65ff45 997px,#39ff51 1006px,#06ff58 1007px,#00ff5a 1008px,#00ff80 1053px,#00ffab 1093px,#00ffca 1116px,#00ffe2 1160px,#00ffff 1193px,#0070ff 1348px,#0052ff 1369px)"></i>
<i style="top:275px;height:6px;background:linear-gradient(90deg,#94ff1e 0px,#94ff1e 171px,#b2ff00 220px,#bdff00 233px,#ccff00 240px,#ffff00 256px,#ffe200 277px,#ffcf00 311px,#ff9600 363px,#ff6800 466px,#ff5e00 500px,#ff5600 568px,#ff8600 675px,#ff9e00 744px,#ffbb00 801px,#ffff00 880px,#ccff00 915px,#b2ff00 945px,#86ff2c 987px,#80ff33 990px,#69ff43 996px,#38ff51 1006px,#04ff59 1007px,#00ff5a 1008px,#00ff7f 1053px,#00ffac 1093px,#00ffcb 1116px,#00ffe3 1160px,#00ffff 1193px,#0070ff 1348px,#0053ff 1369px)"></i>
<i style="top:280px;height:6px;background:linear-gradient(90deg,#96ff1c 0px,#96ff1c 171px,#b2ff00 212px,#c6ff00 233px,#e3ff00 244px,#ffff00 252px,#ffdb00 277px,#ffc700 311px,#ff9100 363px,#ff6200 466px,#ff5800 500px,#ff5100 568px,#ff8400 675px,#ff9c00 744px,#ffba00 801px,#ffff00 881px,#ccff00 916px,#b2ff00 946px,#86ff2d 987px,#68ff43 996px,#38ff52 1006px,#01ff59 1007px,#00ff5a 1008px,#00ff7e 1053px,#00ffcd 1116px,#00ffe4 1160px,#00ffff 1194px,#0071ff 1348px,#0054ff 1369px)"></i>
<i style="top:285px;height:6px;background:linear-gradient(90deg,#99ff1a 0px,#99ff1a 171px,#b3ff00 204px,#baff00 215px,#ccff00 231px,#e3ff00 240px,#ffff00 248px,#ffd500 277px,#ffbf00 311px,#ff8b00 363px,#ff5c00 466px,#ff5300 500px,#ff4c00 568px,#ff8200 675px,#ff9a00 744px,#ffb900 801px,#ffff00 881px,#ccff00 917px,#b3ff00 947px,#86ff2d 987px,#68ff44 996px,#3bff51 1005px,#33ff52 1006px,#00ff59 1007px,#00ff7d 1053px,#00ffce 1116px,#00ffe6 1160px,#00ffff 1194px,#0072ff 1348px,#0054ff 1369px)"></i>
<i style="top:290px;height:6px;background:linear-gradient(90deg,#9bff17 0px,#9bff17 171px,#b2ff00 197px,#bfff00 215px,#ccff00 225px,#dcff00 234px,#ffff00 244px,#ffce00 277px,#ffb700 311px,#ff8500 363px,#ff5700 466px,#ff4e00 500px,#ff4700 568px,#ff8100 675px,#ff9800 744px,#ffb800 801px,#ffde00 848px,#ffff00 882px,#ccff00 918px,#b3ff00 948px,#85ff2d 987px,#67ff44 996px,#3bff51 1005px,#2eff53 1006px,#00ff59 1007px,#00ff7c 1053px,#00ffd0 1116px,#00ffe7 1160px,#00ffff 1194px,#0073ff 1348px,#0055ff 1369px)"></i>
<i style="top:295px;height:6px;background:linear-gradient(90deg,#9eff15 0px,#9eff15 171px,#b3ff00 192px,#c7ff00 216px,#e4ff00 233px,#feff00 240px,#ffc800 277px,#ffb900 294px,#ffb000 311px,#ff8000 363px,#ff5100 466px,#ff4900 500px,#ff4200 568px,#ff7f00 675px,#ff9600 744px,#ffb800 801px,#ffdd00 848px,#ffff00 882px,#ccff00 919px,#b3ff00 949px,#85ff2e 987px,#67ff44 996px,#3aff51 1005px,#29ff54 1006px,#00ff59 1007px,#00ff7b 1053px,#00ffd1 1116px,#00ffe8 1160px,#00ffff 1194px,#0074ff 1348px,#0055ff 1369px)"></i>
<i style="top:300px;height:6px;background:linear-gradient(90deg,#a0ff12 0px,#a0ff12 171px,#b3ff00 188px,#cbff00 215px,#e5ff00 228px,#fcff00 236px,#ffc200 277px,#ff7a00 363px,#ff4b00 466px,#ff3c00 568px,#ff5700 606px,#ff6700 641px,#ff7e00 675px,#ff9400 744px,#ffb700 801px,#ffdc00 848px,#ffff00 883px,#ccff00 920px,#b3ff00 950px,#84ff2e 987px,#66ff45 996px,#3aff51 1005px,#23ff54 1006px,#00ff59 1007px,#00ff7a 1053px,#00ffd3 1116px,#00ffff 1195px,#0074ff 1348px,#0056ff 1369px)"></i>
<i style="top:305px;height:6px;background:linear-gradient(90deg,#a3ff10 0px,#a3ff10 171px,#b3ff00 184px,#d2ff00 215px,#ffff00 233px,#ffbb00 277px,#ffaa00 294px,#ffa000 311px,#ff7400 363px,#ff4600 466px,#ff3900 533px,#ff3700 568px,#ff5400 606px,#ff6400 641px,#ff7c00 675px,#ff9200 744px,#ffb600 801px,#ffdb00 848px,#ffff00 883px,#ccff00 921px,#b3ff00 951px,#84ff2e 987px,#66ff45 996px,#39ff51 1005px,#00ff59 1007px,#00ff79 1053px,#00ffd4 1116px,#00ffff 1195px,#0075ff 1348px,#0056ff 1369px)"></i>
<i style="top:310px;height:6px;background:linear-gradient(90deg,#a5ff0d 0px,#a5ff0d 171px,#b2ff00 181px,#d9ff00 215px,#fdff00 228px,#ffb600 276px,#ffa200 294px,#ff6f00 362px,#ff4000 466px,#ff3400 533px,#ff3200 568px,#ff5000 606px,#ff6200 641px,#ff7a00 675px,#ff9000 744px,#ffbc00 813px,#ffda00 848px,#ffff00 884px,#ccff00 922px,#b2ff00 952px,#84ff2f 987px,#65ff45 996px,#39ff51 1005px,#19ff56 1006px,#00ff5a 1007px,#00ff78 1053px,#00ffd6 1116px,#00ffff 1195px,#0076ff 1348px,#0057ff 1369px)"></i>
<i style="top:315px;height:6px;background:linear-gradient(90deg,#a8ff0b 0px,#a8ff0b 171px,#b3ff00 179px,#e1ff00 215px,#fdff00 224px,#ffc600 260px,#ff9b00 294px,#ff6900 362px,#ff3a00 466px,#ff2f00 534px,#ff2d00 568px,#ff2e00 572px,#ff4d00 606px,#ff5f00 641px,#ff7900 675px,#ff8e00 744px,#ffa800 779px,#ffbb00 813px,#ffd900 848px,#fffe00 884px,#ccff00 923px,#b2ff00 953px,#83ff2f 987px,#68ff43 995px,#38ff52 1005px,#14ff57 1006px,#00ff5a 1007px,#00ff77 1053px,#00ffc6 1103px,#00ffd7 1116px,#00ffff 1196px,#0076ff 1348px,#0057ff 1369px)"></i>
<i style="top:320px;height:6px;background:linear-gradient(90deg,#aaff08 0px,#aaff08 171px,#b3ff00 177px,#ccff00 197px,#e5ff00 213px,#feff00 221px,#ffc000 260px,#ff9300 294px,#ff6400 362px,#ff3400 466px,#ff2900 534px,#ff2800 568px,#ff2900 572px,#ff4a00 606px,#ff5c00 641px,#ff7700 675px,#ff8c00 744px,#ffa700 779px,#ffba00 813px,#ffd800 848px,#ffff00 885px,#cdff00 924px,#b3ff00 953px,#83ff30 987px,#68ff44 995px,#3cff50 1004px,#31ff53 1005px,#0fff57 1006px,#00ff5a 1007px,#00ff76 1053px,#00ffc6 1102px,#00ffd8 1116px,#00ffe8 1160px,#00ffff 1198px,#0076ff 1348px,#0057ff 1369px)"></i>
<i style="top:325px;height:6px;background:linear-gradient(90deg,#adff05 0px,#adff05 171px,#b3ff00 175px,#ccff00 194px,#e4ff00 208px,#f2ff00 215px,#fdff00 218px,#ffbb00 259px,#ff8d00 293px,#ff7200 328px,#ff4c00 397px,#ff2f00 465px,#ff2400 534px,#ff2300 568px,#ff2400 572px,#ff4700 606px,#ff5a00 641px,#ff7500 675px,#ff8a00 744px,#ffa600 779px,#ffb900 813px,#ffd700 848px,#ffff00 886px,#cdff00 925px,#b3ff00 954px,#83ff30 987px,#67ff44 995px,#3bff51 1004px,#29ff54 1005px,#0aff58 1006px,#00ff5a 1007px,#00ff75 1053px,#00ffc6 1101px,#00ffd8 1115px,#00ffe6 1160px,#00ffff 1199px,#0076ff 1348px,#0057ff 1369px)"></i>
<i style="top:330px;height:6px;background:linear-gradient(90deg,#b0ff03 0px,#b0ff03 171px,#ccff00 191px,#e5ff00 205px,#ffff00 216px,#ffb500 259px,#ff8400 294px,#ff6b00 328px,#ff4700 397px,#ff2900 465px,#ff1f00 534px,#ff1e00 568px,#ff1e00 572px,#ff4400 606px,#ff5700 641px,#ff7400 675px,#ff8800 744px,#ffa500 779px,#ffb800 813px,#ffd600 848px,#fffe00 886px,#cdff00 926px,#b2ff00 955px,#82ff30 987px,#67ff44 995px,#3bff51 1004px,#05ff59 1006px,#00ff5a 1007px,#00ff74 1053px,#00ffc6 1100px,#00ffd9 1115px,#00ffe4 1160px,#00ffff 1200px,#0076ff 1348px,#0057ff 1369px)"></i>
<i style="top:335px;height:6px;background:linear-gradient(90deg,#b2ff00 0px,#b2ff00 171px,#cdff00 189px,#ffff00 213px,#ffae00 259px,#ff7d00 294px,#ff6400 328px,#ff2400 465px,#ff1900 534px,#ff1900 568px,#ff1900 572px,#ff4000 606px,#ff5400 641px,#ff7200 675px,#ff8600 744px,#ffa300 779px,#ffb700 813px,#ffd500 848px,#ffff00 887px,#d9ff00 916px,#b3ff00 955px,#88ff2a 984px,#80ff33 988px,#66ff45 995px,#3aff51 1004px,#17ff56 1005px,#00ff59 1006px,#00ff73 1053px,#00ffc7 1100px,#00ffda 1115px,#00ffe3 1160px,#00ffff 1202px,#0076ff 1348px,#0057ff 1369px)"></i>
<i style="top:340px;height:6px;background:linear-gradient(90deg,#b4ff00 0px,#b4ff00 110px,#bbff00 171px,#cdff00 183px,#ffff00 206px,#fff600 215px,#ffa800 259px,#ff7700 294px,#ff5f00 327px,#ff2100 465px,#ff1800 534px,#ff1800 572px,#ff3e00 606px,#ff5300 641px,#ff7000 675px,#ff8500 744px,#ffa200 779px,#ffb700 814px,#ffd300 848px,#ffff00 889px,#dcff00 915px,#b2ff00 956px,#81ff32 988px,#65ff45 996px,#3eff50 1004px,#38ff52 1006px,#05ff59 1008px,#00ff5a 1009px,#00ff73 1053px,#00ffc6 1100px,#00ffd9 1115px,#00ffe1 1160px,#00ffff 1203px,#009dff 1310px,#0075ff 1349px,#0057ff 1369px)"></i>
<i style="top:345px;height:6px;background:linear-gradient(90deg,#b6ff00 0px,#b6ff00 110px,#c4ff00 171px,#e6ff00 189px,#feff00 199px,#ffee00 215px,#ffa200 259px,#ff8800 277px,#ff7200 294px,#ff6600 311px,#ff4900 363px,#ff2000 465px,#ff1700 534px,#ff1800 572px,#ff3c00 606px,#ff5100 641px,#ff6e00 675px,#ff8400 744px,#ffa100 779px,#ffb600 814px,#ffd200 848px,#ffff00 890px,#ddff00 915px,#b3ff00 956px,#80ff32 989px,#64ff45 997px,#3eff50 1005px,#39ff51 1008px,#25ff54 1009px,#09ff58 1010px,#00ff5a 1011px,#00ff73 1053px,#00ffc7 1102px,#00ffd7 1115px,#00ffdf 1160px,#00ffff 1204px,#009eff 1309px,#0075ff 1349px,#0057ff 1369px)"></i>
<i style="top:350px;height:6px;background:linear-gradient(90deg,#b8ff00 0px,#b8ff00 109px,#bdff00 130px,#ceff00 171px,#ffff00 193px,#ffe700 215px,#ff9b00 259px,#ff8200 277px,#ff6c00 294px,#ff6000 311px,#ff4500 363px,#ff1e00 465px,#ff1700 534px,#ff1700 572px,#ff3a00 606px,#ff4f00 641px,#ff6c00 675px,#ff8300 744px,#ff9f00 779px,#ffb500 814px,#ffd100 848px,#fff900 883px,#ffff00 892px,#e5ff00 909px,#b3ff00 957px,#80ff33 990px,#68ff44 997px,#42ff4e 1005px,#39ff51 1010px,#20ff55 1011px,#00ff59 1012px,#00ff73 1053px,#00ffc7 1103px,#00ffd4 1114px,#00ffdd 1160px,#00ffff 1206px,#009fff 1309px,#0075ff 1349px,#0057ff 1369px)"></i>
<i style="top:355px;height:6px;background:linear-gradient(90deg,#baff00 0px,#baff00 109px,#c0ff00 129px,#daff00 171px,#feff00 186px,#ffe000 215px,#ff9500 259px,#ff7c00 277px,#ff6700 294px,#ff5b00 311px,#ff4100 363px,#ff1d00 465px,#ff1600 534px,#ff1700 572px,#ff3800 606px,#ff4d00 641px,#ff6a00 675px,#ff8200 744px,#ff9e00 779px,#ffb400 814px,#ffd000 848px,#fff800 883px,#ffff00 893px,#e5ff00 910px,#b2ff00 958px,#81ff31 990px,#67ff44 998px,#46ff4d 1005px,#3aff51 1011px,#32ff52 1012px,#0fff57 1013px,#00ff5a 1014px,#00ff73 1053px,#00ffc6 1104px,#00ffd1 1113px,#00ffdb 1160px,#00ffff 1207px,#00a0ff 1309px,#0075ff 1349px,#0057ff 1369px)"></i>
<i style="top:360px;height:6px;background:linear-gradient(90deg,#bcff00 0px,#bcff00 110px,#c4ff00 130px,#e5ff00 170px,#feff00 180px,#ffd800 215px,#ff8f00 259px,#ff7600 277px,#ff6200 294px,#ff5600 311px,#ff3c00 363px,#ff1b00 465px,#ff1500 534px,#ff1600 572px,#ff3600 606px,#ff4b00 641px,#ff6800 675px,#ff8200 744px,#ffb300 814px,#ffcf00 848px,#fff700 883px,#ffff00 894px,#e5ff00 911px,#b3ff00 958px,#81ff32 991px,#67ff44 999px,#4bff4c 1005px,#38ff51 1013px,#18ff56 1014px,#00ff5a 1015px,#00ff73 1053px,#00ffcf 1113px,#00ffd9 1160px,#00ffff 1208px,#00a1ff 1309px,#0075ff 1349px,#0057ff 1369px)"></i>
<i style="top:365px;height:6px;background:linear-gradient(90deg,#beff00 0px,#beff00 110px,#cdff00 136px,#e6ff00 160px,#f5ff00 171px,#fdff00 174px,#ffd100 215px,#ff8800 259px,#ff7000 277px,#ff5d00 294px,#ff5100 311px,#ff3800 363px,#ff1900 465px,#ff1400 534px,#ff1600 572px,#ff3400 606px,#ff4a00 641px,#ff6500 675px,#ff8100 744px,#ffce00 848px,#fff500 883px,#ffff00 895px,#e5ff00 912px,#b2ff00 959px,#80ff32 992px,#67ff44 1000px,#4fff4b 1005px,#39ff51 1014px,#00ff5a 1016px,#00ff73 1053px,#00ffcc 1112px,#00ffd8 1160px,#00ffff 1209px,#00a2ff 1309px,#0075ff 1349px,#0057ff 1369px)"></i>
<i style="top:370px;height:6px;background:linear-gradient(90deg,#c0ff00 0px,#c0ff00 110px,#ccff00 131px,#ffff00 168px,#ffc900 215px,#ff8200 259px,#ff6c00 276px,#ff5700 294px,#ff4c00 311px,#ff3400 363px,#ff1800 465px,#ff1400 534px,#ff1500 572px,#ff6300 675px,#ff8000 744px,#ffcd00 848px,#fff400 883px,#fffe00 896px,#e5ff00 913px,#b3ff00 959px,#80ff32 993px,#66ff45 1001px,#53ff4a 1005px,#39ff51 1015px,#17ff56 1016px,#00ff5a 1017px,#00ff74 1053px,#00ffca 1112px,#00ffd6 1160px,#00ffff 1211px,#00a2ff 1309px,#0075ff 1349px,#0057ff 1369px)"></i>
<i style="top:375px;height:6px;background:linear-gradient(90deg,#c2ff00 0px,#c2ff00 110px,#cfff00 130px,#ffff00 160px,#fff700 171px,#ffc200 215px,#ff7c00 259px,#ff6600 276px,#ff5200 294px,#ff4700 311px,#ff2f00 363px,#ff1600 465px,#ff1300 534px,#ff1500 572px,#ff6100 675px,#ff7f00 744px,#ffcc00 848px,#fff300 883px,#fffe00 897px,#e5ff00 914px,#b3ff00 960px,#80ff32 994px,#66ff45 1002px,#58ff48 1005px,#38ff52 1016px,#0eff57 1017px,#00ff5a 1018px,#00ff74 1053px,#00ffc7 1111px,#00ffd4 1160px,#00ffff 1212px,#00a3ff 1309px,#0075ff 1349px,#0057ff 1369px)"></i>
<i style="top:380px;height:6px;background:linear-gradient(90deg,#c4ff00 0px,#c4ff00 110px,#d4ff00 130px,#ffff00 154px,#fff000 171px,#ffbb00 215px,#ff8d00 243px,#ff5f00 276px,#ff4d00 294px,#ff4200 311px,#ff2b00 362px,#ff2300 397px,#ff1400 466px,#ff1200 534px,#ff1400 572px,#ff5f00 675px,#ff7e00 744px,#ffcb00 848px,#ffff00 898px,#e5ff00 915px,#b2ff00 961px,#80ff32 995px,#65ff45 1003px,#3bff51 1016px,#31ff53 1017px,#00ff59 1018px,#00ff74 1053px,#00ffc7 1113px,#00ffd2 1160px,#00ffff 1213px,#00a4ff 1309px,#0075ff 1349px,#0057ff 1369px)"></i>
<i style="top:385px;height:6px;background:linear-gradient(90deg,#c6ff00 0px,#c6ff00 110px,#d7ff00 129px,#ffff00 149px,#ffea00 171px,#ffb300 215px,#ff8700 243px,#ff5900 276px,#ff3d00 311px,#ff2700 362px,#ff1f00 397px,#ff1300 466px,#ff1200 534px,#ff1400 572px,#ff5d00 675px,#ff7e00 744px,#ffca00 848px,#ffff00 899px,#e5ff00 916px,#b3ff00 961px,#80ff32 996px,#64ff45 1004px,#3aff51 1017px,#00ff5a 1019px,#00ff74 1053px,#00ffc5 1113px,#00ffd0 1160px,#00ffff 1214px,#00a5ff 1309px,#0075ff 1349px,#0057ff 1369px)"></i>
<i style="top:390px;height:6px;background:linear-gradient(90deg,#c8ff00 0px,#c8ff00 110px,#dcff00 129px,#ffff00 145px,#ffe400 171px,#ffac00 215px,#ff8000 243px,#ff5300 276px,#ff3800 310px,#ff2300 362px,#ff1c00 397px,#ff1100 466px,#ff1100 533px,#ff1300 572px,#ff5b00 675px,#ff7d00 744px,#ffc900 848px,#ffff00 900px,#e5ff00 917px,#b3ff00 962px,#81ff32 997px,#64ff45 1005px,#38ff51 1018px,#07ff58 1019px,#00ff5a 1020px,#00ff74 1053px,#00ffc2 1113px,#00ffcf 1160px,#00ffff 1215px,#00a5ff 1309px,#0075ff 1349px,#0057ff 1369px)"></i>
<i style="top:395px;height:6px;background:linear-gradient(90deg,#c9ff00 0px,#c9ff00 109px,#e0ff00 129px,#feff00 141px,#ffdd00 171px,#ffa400 215px,#ff6100 260px,#ff4c00 277px,#ff3d00 294px,#ff3200 311px,#ff1e00 362px,#ff0f00 477px,#ff1300 572px,#ff3f00 641px,#ff5900 675px,#ff7c00 744px,#ffac00 813px,#ffc800 848px,#ffff00 901px,#e5ff00 918px,#b2ff00 963px,#80ff32 998px,#65ff45 1006px,#3aff51 1018px,#23ff54 1019px,#00ff5a 1020px,#00ff74 1053px,#00ffbf 1112px,#00ffcd 1160px,#00ffff 1217px,#00a6ff 1309px,#0075ff 1349px,#0057ff 1369px)"></i>
<i style="top:400px;height:6px;background:linear-gradient(90deg,#cbff00 0px,#cbff00 109px,#e5ff00 129px,#feff00 138px,#ff9d00 215px,#ff5c00 259px,#ff4600 277px,#ff3800 294px,#ff2d00 311px,#ff1a00 362px,#ff0e00 476px,#ff1200 571px,#ff2500 605px,#ff5700 675px,#ff7b00 744px,#ffab00 813px,#ffc700 848px,#fffe00 901px,#e5ff00 919px,#b2ff00 964px,#84ff2e 997px,#65ff45 1007px,#39ff51 1019px,#03ff59 1020px,#00ff5b 1021px,#00ff74 1053px,#00ffbc 1111px,#00ffcb 1160px,#00ffff 1218px,#00a7ff 1309px,#0075ff 1349px,#0057ff 1369px)"></i>
<i style="top:405px;height:6px;background:linear-gradient(90deg,#ceff00 0px,#ceff00 109px,#eaff00 129px,#ffff00 136px,#ff4000 277px,#ff2800 311px,#ff1500 363px,#ff0c00 466px,#ff1200 572px,#ff2300 605px,#ff5500 675px,#ff9100 779px,#ffc600 848px,#feff00 903px,#e4ff00 920px,#b3ff00 964px,#80ff33 1000px,#65ff45 1008px,#3aff51 1019px,#00ff5a 1021px,#00ff74 1053px,#00ffb9 1111px,#00ffc9 1160px,#00ffff 1219px,#00a8ff 1309px,#0075ff 1349px,#0057ff 1369px)"></i>
<i style="top:410px;height:6px;background:linear-gradient(90deg,#d0ff00 0px,#d0ff00 109px,#efff00 129px,#ffff00 134px,#ff6600 242px,#ff3b00 276px,#ff2300 311px,#ff1100 363px,#ff0b00 466px,#ff1100 572px,#ff2100 605px,#ff5300 675px,#ff9000 779px,#ffc500 848px,#feff00 904px,#cdff00 940px,#b3ff00 965px,#80ff33 1001px,#65ff45 1009px,#36ff52 1020px,#00ff5a 1021px,#00ff74 1053px,#00ffb7 1111px,#00ffc7 1160px,#00ffff 1220px,#00a8ff 1309px,#0056ff 1369px)"></i>
<i style="top:415px;height:6px;background:linear-gradient(90deg,#d3ff00 0px,#d3ff00 109px,#e7ff00 122px,#ffff00 132px,#ff5f00 242px,#ff3500 276px,#ff1e00 311px,#ff0d00 363px,#ff0900 466px,#ff0d00 534px,#ff1100 572px,#ff1f00 605px,#ff6600 709px,#ff8e00 779px,#ffc400 848px,#feff00 905px,#cdff00 941px,#b3ff00 966px,#8aff28 997px,#7fff33 1002px,#64ff45 1010px,#3aff51 1020px,#09ff58 1021px,#00ff5a 1022px,#00ff74 1053px,#00ffb4 1111px,#00ffc4 1158px,#00ffff 1220px,#00a5ff 1309px,#0053ff 1369px)"></i>
<i style="top:420px;height:6px;background:linear-gradient(90deg,#d5ff00 0px,#d5ff00 109px,#e5ff00 119px,#feff00 130px,#ffb900 174px,#ff5800 242px,#ff2f00 276px,#ff1900 311px,#ff0800 362px,#ff0800 466px,#ff0c00 534px,#ff1000 571px,#ff1d00 605px,#ff6500 709px,#ff8d00 779px,#ffc300 848px,#feff00 906px,#ccff00 942px,#b2ff00 967px,#8cff27 997px,#81ff31 1002px,#67ff44 1010px,#3bff51 1020px,#00ff5a 1022px,#00ff74 1053px,#00ffb2 1111px,#00ffc1 1156px,#00ffff 1221px,#00a3ff 1309px,#004fff 1369px)"></i>
<i style="top:425px;height:6px;background:linear-gradient(90deg,#d8ff00 0px,#d8ff00 109px,#ffff00 129px,#ffb200 174px,#ff5100 242px,#ff2900 276px,#ff1400 311px,#ff0400 362px,#ff0600 477px,#ff0f00 570px,#ff1b00 605px,#ff6400 709px,#ff8c00 779px,#ffc200 848px,#feff00 907px,#cdff00 942px,#b2ff00 968px,#8eff25 997px,#81ff31 1003px,#66ff45 1011px,#37ff52 1021px,#00ff59 1022px,#00ff73 1052px,#00ffb0 1111px,#00ffbd 1154px,#00ffe5 1191px,#00ffff 1221px,#00a0ff 1309px,#004cff 1369px)"></i>
<i style="top:430px;height:6px;background:linear-gradient(90deg,#daff00 0px,#dbff00 109px,#ffff00 126px,#ffac00 174px,#ff4a00 242px,#ff2300 276px,#ff0f00 311px,#ff0000 362px,#ff0500 477px,#ff0f00 570px,#ff1900 605px,#ff6300 709px,#ff8b00 779px,#ffc100 848px,#ffff00 907px,#cdff00 943px,#b3ff00 968px,#90ff23 997px,#81ff32 1004px,#65ff45 1012px,#3aff51 1021px,#11ff57 1022px,#00ff5a 1023px,#00ffad 1111px,#00ffbd 1156px,#00ffe5 1191px,#00ffff 1222px,#009dff 1309px,#0049ff 1369px)"></i>
<i style="top:435px;height:6px;background:linear-gradient(90deg,#ddff00 0px,#ddff00 45px,#e9ff00 109px,#fffe00 119px,#fff300 130px,#ffa700 173px,#ff8d00 191px,#ff4700 242px,#ff2100 276px,#ff0d00 311px,#ff0000 358px,#ff0400 477px,#ff0e00 570px,#ff1800 605px,#ff6200 709px,#ff8b00 779px,#ffc000 848px,#feff00 908px,#cdff00 943px,#b3ff00 969px,#91ff22 997px,#80ff32 1005px,#68ff44 1012px,#39ff51 1022px,#23ff55 1023px,#00ff59 1024px,#00ffac 1111px,#00ffba 1155px,#00ffe5 1191px,#00ffff 1222px,#00ccff 1269px,#009bff 1309px,#005fff 1349px,#0046ff 1369px)"></i>
<i style="top:440px;height:6px;background:linear-gradient(90deg,#e0ff00 0px,#e0ff00 45px,#faff00 109px,#fffe00 112px,#ffeb00 130px,#ffa100 173px,#ff7000 208px,#ff4300 242px,#ff1f00 276px,#ff0c00 311px,#ff0000 354px,#ff0300 477px,#ff0e00 570px,#ff1700 605px,#ff6200 709px,#ff8b00 779px,#ffc000 848px,#feff00 908px,#ccff00 944px,#b3ff00 969px,#91ff21 997px,#80ff33 1006px,#67ff44 1013px,#3aff51 1023px,#30ff53 1024px,#07ff58 1025px,#00ff5a 1026px,#00ffac 1111px,#00ffb8 1155px,#00ffe5 1191px,#00ffff 1223px,#00cbff 1270px,#0098ff 1309px,#005bff 1349px,#0042ff 1369px)"></i>
<i style="top:445px;height:6px;background:linear-gradient(90deg,#e3ff00 0px,#e3ff00 45px,#ffff00 90px,#fff900 110px,#ffe500 129px,#ff9900 174px,#ff3f00 243px,#ff1c00 277px,#ff0b00 311px,#ff0000 350px,#ff0300 476px,#ff0d00 570px,#ff1600 605px,#ff6200 709px,#ff8b00 779px,#ffc000 848px,#feff00 908px,#cdff00 944px,#b3ff00 970px,#92ff20 997px,#81ff32 1006px,#65ff45 1014px,#44ff4e 1021px,#38ff52 1025px,#0eff57 1026px,#00ff5a 1027px,#00ffab 1111px,#00ffb5 1154px,#00ffe5 1191px,#00ffff 1224px,#00cbff 1270px,#0096ff 1309px,#0056ff 1349px,#003fff 1369px)"></i>
<i style="top:450px;height:6px;background:linear-gradient(90deg,#e6ff00 0px,#e6ff00 45px,#ffff00 74px,#fff200 110px,#ffdc00 130px,#ff9500 173px,#ff7d00 190px,#ff3b00 243px,#ff1a00 277px,#ff0900 311px,#ff0000 345px,#ff0200 476px,#ff0d00 570px,#ff1600 605px,#ff6200 709px,#ff8b00 779px,#ffc000 848px,#feff00 908px,#cdff00 944px,#b2ff00 971px,#93ff1f 997px,#80ff32 1007px,#64ff45 1015px,#44ff4e 1022px,#39ff51 1026px,#12ff57 1027px,#00ff5a 1028px,#00ffaa 1111px,#00ffb2 1153px,#00ffe6 1191px,#00ffff 1224px,#00cbff 1270px,#0093ff 1309px,#0052ff 1349px,#003cff 1369px)"></i>
<i style="top:455px;height:6px;background:linear-gradient(90deg,#eaff00 0px,#eaff00 45px,#ffff00 65px,#ffeb00 110px,#ffd400 130px,#ff8f00 173px,#ff7700 190px,#ff3800 242px,#ff1800 277px,#ff0800 311px,#ff0000 341px,#ff0100 476px,#ff0c00 570px,#ff1500 605px,#ff6100 709px,#ff8b00 779px,#ffbf00 848px,#feff00 908px,#ccff00 945px,#b3ff00 971px,#94ff1f 997px,#80ff33 1008px,#63ff46 1016px,#47ff4d 1022px,#39ff51 1027px,#12ff57 1028px,#00ff5a 1029px,#00ffa9 1111px,#00ffb0 1132px,#00ffb0 1152px,#00ffb7 1160px,#00ffe6 1191px,#00ffff 1225px,#00cbff 1270px,#0090ff 1309px,#004eff 1349px,#0039ff 1369px)"></i>
<i style="top:460px;height:6px;background:linear-gradient(90deg,#edff00 0px,#edff00 45px,#ffff00 59px,#ffe500 109px,#ffcd00 130px,#ff7000 191px,#ff3500 242px,#ff1600 277px,#ff0000 336px,#ff0000 473px,#ff0b00 570px,#ff1400 605px,#ff6100 709px,#ff8b00 779px,#ffbf00 848px,#feff00 908px,#cdff00 945px,#b2ff00 972px,#95ff1e 997px,#83ff2f 1007px,#66ff45 1016px,#4bff4c 1022px,#39ff51 1028px,#0eff57 1029px,#00ff5a 1030px,#00ffa8 1111px,#00ffaf 1132px,#00ffad 1152px,#00ffb5 1160px,#00ffe6 1191px,#00ffff 1226px,#00cdff 1269px,#004aff 1349px,#0035ff 1369px)"></i>
<i style="top:465px;height:6px;background:linear-gradient(90deg,#f1ff00 0px,#f1ff00 45px,#ffff00 55px,#ffde00 109px,#ffc500 130px,#ff6a00 191px,#ff3100 242px,#ff1400 277px,#ff0000 331px,#ff0000 481px,#ff1300 605px,#ff6100 709px,#ff8b00 779px,#ffbf00 848px,#feff00 908px,#cdff00 945px,#b3ff00 972px,#96ff1d 997px,#85ff2e 1007px,#65ff45 1017px,#4eff4b 1022px,#38ff52 1029px,#06ff58 1030px,#00ff5a 1031px,#00ffa8 1111px,#00ffad 1132px,#00ffab 1152px,#00ffb4 1160px,#00ffe6 1191px,#00feff 1227px,#00cdff 1269px,#0046ff 1349px,#0032ff 1369px)"></i>
<i style="top:470px;height:6px;background:linear-gradient(90deg,#f5ff00 0px,#f5ff00 45px,#ffff00 51px,#ffd700 109px,#ffbe00 130px,#ff7b00 174px,#ff3e00 225px,#ff1200 277px,#ff0000 326px,#ff0000 487px,#ff1200 605px,#ff6100 709px,#ff8b00 779px,#ffbf00 848px,#feff00 908px,#ccff00 946px,#b3ff00 973px,#96ff1c 997px,#86ff2c 1007px,#7dff35 1011px,#64ff45 1018px,#52ff4a 1022px,#3bff51 1029px,#30ff53 1030px,#00ff59 1031px,#00ffa7 1111px,#00ffac 1132px,#00ffa9 1152px,#00ffb2 1160px,#00ffe6 1191px,#00ffff 1227px,#00cdff 1269px,#0043ff 1348px,#002fff 1369px)"></i>
<i style="top:475px;height:6px;background:linear-gradient(90deg,#f8ff00 0px,#f8ff00 45px,#ffff00 49px,#ffcf00 109px,#ffb600 130px,#ff6000 190px,#ff3900 225px,#ff1000 277px,#ff0000 321px,#ff0000 492px,#ff1200 605px,#ff6000 709px,#ff8b00 779px,#ffbe00 848px,#feff00 908px,#cdff00 946px,#b3ff00 973px,#88ff2b 1007px,#80ff33 1011px,#67ff44 1018px,#3aff51 1030px,#22ff55 1031px,#00ff5a 1032px,#00ffa6 1111px,#00ffab 1132px,#00ffa7 1152px,#00ffb0 1160px,#00ffe6 1191px,#00ffff 1228px,#00cbff 1270px,#003dff 1349px,#002cff 1369px)"></i>
<i style="top:480px;height:6px;background:linear-gradient(90deg,#fcff00 0px,#ffff00 47px,#ffc700 110px,#ff5a00 190px,#ff3400 225px,#ff0e00 277px,#ff0000 315px,#ff0000 498px,#ff1100 605px,#ff6000 709px,#ff8b00 779px,#ffbe00 848px,#feff00 908px,#cdff00 946px,#b3ff00 974px,#89ff29 1007px,#7fff34 1012px,#66ff45 1019px,#39ff51 1031px,#11ff57 1032px,#00ff5a 1033px,#00ffa5 1111px,#00ffaa 1132px,#00ffa5 1152px,#00ffae 1160px,#00ffe6 1191px,#00ffff 1229px,#00cbff 1270px,#0039ff 1349px,#0028ff 1369px)"></i>
<i style="top:485px;height:6px;background:linear-gradient(90deg,#ffff00 0px,#ffff00 45px,#ffc000 110px,#ff5400 190px,#ff3000 225px,#ff0d00 276px,#ff0000 310px,#ff0000 504px,#ff1000 605px,#ff6000 709px,#ff8b00 779px,#ffbe00 848px,#feff00 908px,#ccff00 947px,#b2ff00 975px,#8bff28 1007px,#7eff34 1013px,#65ff45 1020px,#37ff52 1032px,#00ff59 1033px,#00ffa4 1111px,#00ffa9 1132px,#00ffa3 1152px,#00ffac 1160px,#00ffc8 1173px,#00ffe7 1191px,#00ffff 1230px,#00cbff 1270px,#0035ff 1349px,#0025ff 1369px)"></i>
<i style="top:490px;height:6px;background:linear-gradient(90deg,#fffd00 0px,#fffd00 45px,#ffba00 109px,#ff4e00 190px,#ff2b00 225px,#ff0a00 276px,#ff0000 306px,#ff0000 509px,#ff0f00 605px,#ff5f00 709px,#ff8b00 779px,#ffbe00 848px,#feff00 908px,#cdff00 947px,#b3ff00 975px,#8cff26 1007px,#7dff35 1014px,#64ff45 1021px,#3aff51 1032px,#00ff5a 1034px,#00ff7a 1071px,#00ffa3 1111px,#00ffa8 1132px,#00ffa3 1152px,#00ffac 1160px,#00ffc7 1173px,#00ffe6 1191px,#00ffff 1230px,#00caff 1270px,#0031ff 1348px,#0021ff 1369px)"></i>
<i style="top:495px;height:6px;background:linear-gradient(90deg,#fffc00 0px,#fffc00 45px,#ffb300 109px,#ff4700 191px,#ff2700 225px,#ff0800 277px,#ff0000 302px,#ff0000 514px,#ff0f00 605px,#ff5f00 709px,#ff8b00 779px,#ffbd00 848px,#ffff00 907px,#ccff00 948px,#b3ff00 976px,#8fff23 1006px,#7fff33 1014px,#67ff44 1021px,#39ff51 1033px,#04ff59 1034px,#00ff5b 1035px,#00ff79 1071px,#00ffa3 1111px,#00ffa8 1132px,#00ffa4 1152px,#00ffad 1160px,#00ffc7 1173px,#00ffe5 1191px,#00fffe 1230px,#00c9ff 1269px,#005eff 1319px,#002cff 1348px,#001cff 1369px)"></i>
<i style="top:500px;height:6px;background:linear-gradient(90deg,#fffa00 0px,#fffa00 45px,#ff4100 191px,#ff2200 225px,#ff0600 276px,#ff0000 297px,#ff0000 519px,#ff0e00 605px,#ff5f00 709px,#ff8b00 779px,#ffbd00 848px,#ffff00 907px,#ccff00 948px,#b2ff00 977px,#91ff22 1006px,#7eff34 1015px,#66ff45 1022px,#3bff51 1033px,#26ff54 1034px,#00ff5a 1035px,#00ff78 1071px,#00ffa2 1111px,#00ffa7 1132px,#00ffa4 1152px,#00ffad 1160px,#00ffe4 1191px,#00ffff 1231px,#00f5ff 1240px,#00c7ff 1269px,#0055ff 1319px,#0025ff 1349px,#0018ff 1369px)"></i>
<i style="top:505px;height:6px;background:linear-gradient(90deg,#fff900 0px,#fff900 45px,#ff9100 122px,#ff3b00 191px,#ff1d00 225px,#ff1400 243px,#ff0000 291px,#ff0000 523px,#ff0d00 605px,#ff5f00 709px,#ff8b00 779px,#ffbd00 848px,#ffff00 907px,#cdff00 948px,#b3ff00 977px,#92ff20 1006px,#7eff34 1016px,#66ff45 1023px,#39ff51 1034px,#04ff59 1035px,#00ff5b 1036px,#00ff77 1071px,#00ffa1 1111px,#00ffa7 1131px,#00ffa5 1152px,#00ffae 1160px,#00ffe4 1191px,#00ffff 1231px,#00f6ff 1240px,#00c5ff 1269px,#004cff 1319px,#001fff 1349px,#0013ff 1369px)"></i>
<i style="top:510px;height:6px;background:linear-gradient(90deg,#fff700 0px,#fff700 45px,#ff8a00 122px,#ff3700 190px,#ff1900 225px,#ff1100 242px,#ff0000 284px,#ff0000 528px,#ff0c00 605px,#ff5e00 709px,#ff8b00 779px,#ffbd00 848px,#ffff00 907px,#ccff00 949px,#b3ff00 978px,#94ff1f 1006px,#80ff33 1016px,#65ff45 1024px,#3bff51 1034px,#24ff54 1035px,#00ff5a 1036px,#00ff76 1071px,#00ffa0 1111px,#00ffa7 1131px,#00ffa6 1152px,#00ffae 1160px,#00ffe3 1191px,#00fff4 1211px,#00fffe 1231px,#00f7ff 1240px,#00c3ff 1269px,#0043ff 1319px,#0019ff 1349px,#000eff 1369px)"></i>
<i style="top:515px;height:6px;background:linear-gradient(90deg,#fff600 0px,#fff600 45px,#ff8200 122px,#ff3000 191px,#ff1400 225px,#ff0000 277px,#ff0000 533px,#ff0c00 606px,#ff5e00 709px,#ff8b00 779px,#ffbc00 848px,#ffff00 907px,#ccff00 949px,#b3ff00 979px,#94ff1f 1007px,#7fff33 1017px,#64ff45 1025px,#39ff51 1035px,#00ff59 1036px,#00ff75 1071px,#00ff9f 1111px,#00ffa6 1131px,#00ffa7 1152px,#00ffaf 1160px,#00ffe2 1191px,#00fff4 1211px,#00ffff 1232px,#00f8ff 1240px,#00c1ff 1269px,#003aff 1319px,#0014ff 1349px,#0009ff 1369px)"></i>
<i style="top:520px;height:6px;background:linear-gradient(90deg,#fff400 0px,#fff400 45px,#ff7b00 122px,#ff2a00 191px,#ff1000 225px,#ff0000 271px,#ff0000 537px,#ff0b00 606px,#ff5e00 709px,#ffbc00 848px,#ffff00 907px,#ccff00 950px,#b2ff00 980px,#95ff1d 1007px,#7eff34 1018px,#67ff44 1025px,#3bff51 1035px,#00ff5a 1037px,#00ff74 1071px,#00ff9f 1111px,#00ffa6 1131px,#00ffa7 1152px,#00ffb0 1160px,#00ffe1 1191px,#00fff4 1211px,#00ffff 1232px,#00f9ff 1240px,#00bfff 1269px,#0030ff 1319px,#000eff 1349px,#0005ff 1369px)"></i>
<i style="top:525px;height:6px;background:linear-gradient(90deg,#fff200 0px,#fff200 45px,#ff7300 122px,#ff2400 191px,#ff0b00 225px,#ff0000 263px,#ff0000 541px,#ff0b00 606px,#ff5e00 709px,#ffbc00 848px,#ffff00 907px,#ccff00 950px,#b3ff00 980px,#97ff1c 1007px,#7eff34 1019px,#66ff45 1026px,#38ff52 1036px,#05ff59 1037px,#00ff5a 1038px,#00ff73 1071px,#00ff9e 1112px,#00ffa8 1152px,#00ffb0 1160px,#00ffe0 1191px,#00fff5 1211px,#00ffff 1233px,#00faff 1240px,#00bdff 1269px,#0066ff 1299px,#0027ff 1319px,#0009ff 1349px,#0000ff 1369px)"></i>
<i style="top:530px;height:6px;background:linear-gradient(90deg,#fff000 0px,#ffec00 45px,#ff6d00 122px,#ff2000 191px,#ff0900 225px,#ff0000 257px,#ff0000 544px,#ff0b00 606px,#ff5e00 709px,#ffbc00 848px,#ffff00 907px,#ccff00 950px,#b3ff00 980px,#96ff1c 1007px,#7dff35 1019px,#65ff45 1026px,#38ff52 1036px,#05ff59 1037px,#00ff5a 1038px,#00ff72 1071px,#00ff9e 1112px,#00ffa9 1152px,#00ffb1 1160px,#00ffe0 1191px,#00fff4 1210px,#00ffff 1234px,#00fbff 1240px,#00bbff 1269px,#0060ff 1299px,#001eff 1319px,#0003ff 1349px,#0000fa 1369px)"></i>
<i style="top:535px;height:6px;background:linear-gradient(90deg,#ffec00 0px,#ffe400 45px,#ff6800 122px,#ff1e00 191px,#ff0700 225px,#ff0000 251px,#ff0000 548px,#ff0b00 606px,#ff5e00 709px,#ffbc00 848px,#ffff00 907px,#ccff00 950px,#b3ff00 980px,#96ff1d 1007px,#80ff33 1018px,#68ff44 1025px,#3cff50 1035px,#2eff53 1036px,#00ff59 1037px,#00ff72 1071px,#00ff9d 1112px,#00ffaa 1152px,#00ffb1 1160px,#00ffdf 1191px,#00fff5 1211px,#00ffff 1235px,#00fcff 1240px,#00b8ff 1269px,#005bff 1299px,#0015ff 1319px,#0000ff 1345px,#0000f5 1369px)"></i>
<i style="top:540px;height:6px;background:linear-gradient(90deg,#ffe900 0px,#ffdc00 45px,#ffa100 80px,#ff6200 122px,#ff1b00 191px,#ff0600 225px,#ff0000 246px,#ff0000 356px,#fb0000 377px,#ff0000 395px,#ff0000 551px,#ff0b00 606px,#ff5e00 709px,#ffbc00 848px,#ffff00 907px,#cdff00 949px,#b2ff00 980px,#95ff1e 1007px,#7eff34 1018px,#66ff45 1025px,#3bff51 1035px,#25ff54 1036px,#00ff59 1037px,#00ff72 1071px,#00ff9d 1113px,#00ffaa 1152px,#00fff5 1211px,#00ffff 1237px,#00fdff 1240px,#00b3ff 1270px,#0055ff 1299px,#000cff 1319px,#0000ff 1337px,#0000f1 1369px)"></i>
<i style="top:545px;height:6px;background:linear-gradient(90deg,#ffe600 0px,#ffd400 45px,#ff9a00 80px,#ff5d00 122px,#ff1800 191px,#ff0400 225px,#ff0000 240px,#ff0000 337px,#f70000 377px,#ff0000 406px,#ff0000 554px,#ff0b00 606px,#ff5e00 709px,#ffbc00 848px,#ffff00 907px,#ccff00 949px,#b3ff00 979px,#96ff1d 1006px,#7dff35 1018px,#65ff45 1025px,#3aff51 1035px,#00ff5a 1037px,#00ff71 1071px,#00ff9d 1113px,#00ffae 1155px,#00fff5 1211px,#00ffff 1239px,#00b1ff 1270px,#004fff 1299px,#0003ff 1319px,#0000ec 1369px)"></i>
<i style="top:550px;height:6px;background:linear-gradient(90deg,#ffe300 0px,#ffcc00 45px,#ff9200 80px,#ff5700 122px,#ff1500 191px,#ff0200 225px,#ff0000 323px,#f40000 377px,#ff0000 415px,#ff0000 557px,#ff0a00 605px,#ff5e00 709px,#ffbc00 848px,#ffff00 907px,#ccff00 949px,#b3ff00 979px,#95ff1d 1006px,#7fff33 1017px,#67ff44 1024px,#39ff51 1035px,#11ff57 1036px,#00ff5a 1037px,#00ff72 1072px,#00ff9d 1114px,#00ffac 1152px,#00fff5 1211px,#00ffff 1236px,#00fdff 1240px,#00b1ff 1269px,#0000fe 1319px,#0000ee 1349px,#0000e8 1369px)"></i>
<i style="top:555px;height:6px;background:linear-gradient(90deg,#ffdf00 0px,#ffc400 45px,#ff8a00 80px,#ff5100 122px,#ff1200 191px,#ff0100 225px,#ff0000 315px,#f00000 377px,#ff0000 423px,#ff0000 559px,#ff0a00 605px,#ff2a00 641px,#ff5e00 709px,#ffbc00 848px,#ffff00 907px,#ccff00 949px,#b2ff00 979px,#9aff19 1002px,#7eff34 1017px,#66ff45 1024px,#38ff51 1035px,#08ff58 1036px,#00ff5a 1037px,#00ff79 1081px,#00ff9c 1114px,#00ffad 1152px,#00fff4 1211px,#00ffff 1234px,#00faff 1240px,#00aeff 1269px,#0000fd 1319px,#0000ec 1348px,#0000e5 1369px)"></i>
<i style="top:560px;height:6px;background:linear-gradient(90deg,#ffdc00 0px,#ffbc00 45px,#ff8300 80px,#ff4c00 122px,#ff1000 191px,#ff0000 223px,#ff0000 309px,#f50000 328px,#ec0000 377px,#ff0000 429px,#ff0000 561px,#ff0a00 605px,#ff2a00 641px,#ff5e00 709px,#ffbc00 848px,#ffff00 907px,#cdff00 948px,#b3ff00 978px,#9aff19 1002px,#7dff35 1017px,#65ff45 1024px,#3bff51 1034px,#30ff53 1035px,#00ff59 1036px,#00ff78 1081px,#00ff9d 1115px,#00ffaf 1153px,#00fff3 1211px,#00ffff 1233px,#00f8ff 1240px,#00c6ff 1260px,#0001ff 1318px,#0000f4 1329px,#0000e2 1369px)"></i>
<i style="top:565px;height:6px;background:linear-gradient(90deg,#ffd900 0px,#ffb500 45px,#ff7b00 80px,#ff4600 122px,#ff0d00 191px,#ff0000 219px,#ff0000 304px,#f10000 328px,#e90000 377px,#ff0000 433px,#ff0000 563px,#ff0a00 605px,#ff2b00 641px,#ff5e00 709px,#ffbc00 848px,#ffff00 907px,#ccff00 948px,#b2ff00 978px,#99ff19 1002px,#7fff33 1016px,#67ff44 1023px,#43ff4e 1031px,#3aff51 1034px,#23ff54 1035px,#00ff5a 1036px,#00ff78 1081px,#00ff9d 1116px,#00ffb0 1153px,#00fff2 1211px,#00ffff 1232px,#00f6ff 1240px,#00c5ff 1260px,#003aff 1299px,#0000ff 1318px,#0000f2 1329px,#0000df 1369px)"></i>
<i style="top:570px;height:6px;background:linear-gradient(90deg,#ffd600 0px,#ffad00 45px,#ff7300 80px,#ff4100 122px,#ff0a00 191px,#ff0000 215px,#ff0000 300px,#ed0000 328px,#e50000 377px,#ff0000 437px,#ff0000 565px,#ff0a00 605px,#ff2b00 641px,#ff5e00 709px,#ffbc00 848px,#ffff00 907px,#ccff00 948px,#b2ff00 978px,#99ff1a 1002px,#7eff34 1016px,#66ff45 1023px,#41ff4e 1031px,#39ff51 1034px,#16ff56 1035px,#00ff5a 1036px,#00ff77 1081px,#00ff9d 1117px,#00ffb1 1153px,#00fff1 1211px,#00fffe 1231px,#00f4ff 1240px,#00c3ff 1260px,#0034ff 1299px,#0002ff 1317px,#0000f0 1329px,#0000dc 1369px)"></i>
<i style="top:575px;height:6px;background:linear-gradient(90deg,#ffd300 0px,#ffa500 45px,#ff6c00 80px,#ff3b00 122px,#ff0700 191px,#ff0000 210px,#ff0000 296px,#e90000 328px,#e20000 377px,#ff0000 441px,#ff0000 566px,#ff0a00 605px,#ff2b00 641px,#ff5e00 709px,#ffbc00 848px,#ffff00 907px,#ccff00 948px,#b3ff00 977px,#98ff1a 1002px,#80ff33 1015px,#64ff45 1023px,#3aff51 1033px,#2fff53 1034px,#08ff58 1035px,#00ff5a 1036px,#00ff76 1081px,#00ff9e 1118px,#00ffb2 1153px,#00fff1 1211px,#00ffff 1231px,#00f2ff 1240px,#00c4ff 1259px,#002fff 1299px,#0000ff 1317px,#0000ee 1329px,#0000d9 1369px)"></i>
<i style="top:580px;height:6px;background:linear-gradient(90deg,#ffcf00 0px,#ff9d00 45px,#ff6400 80px,#ff3600 122px,#ff0500 191px,#ff0000 205px,#ff0000 293px,#e50000 328px,#de0000 377px,#ff0000 444px,#ff0000 568px,#ff0a00 605px,#ff2c00 641px,#ff5e00 709px,#ffbc00 848px,#ffff00 907px,#cdff00 947px,#b2ff00 977px,#98ff1a 1002px,#7fff33 1015px,#67ff44 1022px,#39ff51 1033px,#00ff59 1035px,#00ff75 1081px,#00ff9b 1115px,#00ffb4 1155px,#00fff0 1211px,#00fffe 1230px,#00f0ff 1240px,#00c3ff 1259px,#002aff 1299px,#0001ff 1316px,#0000ec 1329px,#0000d5 1369px)"></i>
<i style="top:585px;height:6px;background:linear-gradient(90deg,#ffcc00 0px,#ff9500 45px,#ff5d00 80px,#ff3000 122px,#ff0200 191px,#ff0000 290px,#e10000 328px,#da0000 377px,#ff0000 446px,#ff0000 569px,#ff0a00 605px,#ff2c00 641px,#ff5e00 709px,#ffbc00 848px,#ffff00 907px,#cdff00 947px,#b3ff00 976px,#98ff1b 1002px,#7eff34 1015px,#66ff45 1022px,#39ff51 1032px,#2dff53 1033px,#0dff57 1034px,#00ff5a 1035px,#00ff75 1081px,#00ff9c 1116px,#00ffb6 1156px,#00ffef 1211px,#00fffe 1230px,#00edff 1240px,#00c1ff 1259px,#0025ff 1299px,#0000ff 1316px,#0000ea 1329px,#0000d2 1369px)"></i>
<i style="top:590px;height:6px;background:linear-gradient(90deg,#ffc900 0px,#ff8d00 45px,#ff5500 80px,#ff2b00 122px,#ff0000 189px,#ff0000 287px,#dd0000 328px,#d70000 377px,#ff0000 449px,#ff0000 570px,#ff0a00 605px,#ff2c00 641px,#ffbc00 848px,#ffff00 907px,#ccff00 947px,#b3ff00 976px,#98ff1b 1002px,#80ff33 1014px,#64ff45 1022px,#3bff51 1031px,#34ff52 1032px,#00ff59 1034px,#00ff74 1081px,#00ff9b 1116px,#00ffb9 1158px,#00fffe 1230px,#00c0ff 1259px,#006cff 1279px,#0020ff 1299px,#0000ff 1315px,#0000e8 1329px,#0000cf 1369px)"></i>
<i style="top:595px;height:6px;background:linear-gradient(90deg,#ffc600 0px,#ff9b00 31px,#ff4d00 80px,#ff2500 122px,#ff0000 184px,#ff0000 285px,#d90000 328px,#d30000 377px,#ff0000 451px,#ff0000 571px,#ff0a00 605px,#ff2c00 641px,#ffbc00 848px,#ffff00 907px,#ccff00 947px,#b2ff00 976px,#97ff1b 1002px,#7fff33 1014px,#67ff44 1021px,#39ff51 1031px,#03ff59 1033px,#00ff5a 1034px,#00ff73 1081px,#00ff9c 1117px,#00ffbc 1160px,#00ffff 1230px,#00bbff 1260px,#0068ff 1279px,#0018ff 1300px,#0000ff 1314px,#0000e5 1329px,#0000cc 1369px)"></i>
<i style="top:600px;height:6px;background:linear-gradient(90deg,#ffc400 0px,#ff9a00 30px,#ff4a00 80px,#ff2300 122px,#ff0000 182px,#ff0000 284px,#d70000 328px,#d20000 377px,#ff0000 452px,#ff0000 572px,#ff0a00 605px,#ff2d00 641px,#ffbc00 848px,#ffff00 907px,#ccff00 947px,#b2ff00 976px,#97ff1b 1002px,#7eff34 1014px,#66ff45 1021px,#39ff51 1031px,#11ff57 1032px,#00ff59 1033px,#00ff73 1081px,#00ff9c 1117px,#00ffbc 1160px,#00ffff 1230px,#00bbff 1260px,#0068ff 1279px,#0018ff 1300px,#0000ff 1314px,#0000e5 1329px,#0000cc 1369px)"></i>
</div>
<div class="hm" style="left:1775px;top:113px;width:43px;height:800px;background:linear-gradient(180deg,#870000 0.0px,#cc0000 40.0px,#ff0000 76.0px,#ff0000 100.0px,#fffc00 304.1px,#faff00 308.1px,#d1ff00 324.1px,#b3ff00 340.1px,#98ff1b 352.1px,#81ff32 364.1px,#75ff3a 368.1px,#69ff43 372.1px,#47ff4c 380.1px,#1cff55 384.1px,#00ff5f 388.1px,#00ffc4 452.1px,#00ffff 500.1px,#0000ff 700.2px,#000080 800.2px)"></div>
<div class="hm" style="left:1775px;top:1320px;width:43px;height:800px;background:linear-gradient(180deg,#870000 0.0px,#cc0000 40.0px,#ff0000 76.1px,#ff0000 100.1px,#fffc00 304.3px,#faff00 308.3px,#d1ff00 324.4px,#b3ff00 340.4px,#98ff1b 352.4px,#81ff32 364.4px,#75ff3a 368.4px,#69ff43 372.4px,#47ff4c 380.4px,#1cff55 384.4px,#00ff5f 388.4px,#00ffc4 452.5px,#00ffff 500.6px,#0000ff 700.8px,#000080 800.9px)"></div>
<div class="hm" style="left:1776px;top:2526px;width:43px;height:764px;background:linear-gradient(180deg,#870000 0.0px,#cc0000 38.2px,#ff0000 72.6px,#ff0000 95.6px,#fffc00 290.5px,#faff00 294.4px,#d1ff00 309.7px,#b3ff00 325.0px,#98ff1b 336.4px,#81ff32 347.9px,#75ff3a 351.7px,#69ff43 355.5px,#47ff4c 363.2px,#1cff55 367.0px,#00ff5f 370.8px,#00ffc4 432.0px,#00ffff 477.9px,#0000ff 669.0px,#000080 764.6px)"></div>
<svg width="2068" height="3617">
<path d="M208.7 113.0V874.0H1695.7" fill="none" stroke="#444444" stroke-width="2.6"/>
<path d="M208.7 874.0v-13.5M208.7 874.0h13.5M456.5 874.0v-13.5M208.7 747.2h13.5M704.4 874.0v-13.5M208.7 620.3h13.5M952.2 874.0v-13.5M208.7 493.5h13.5M1200.0 874.0v-13.5M208.7 366.7h13.5M1447.9 874.0v-13.5M208.7 239.8h13.5M1695.7 874.0v-13.5M208.7 113.0h13.5" stroke="#444444" stroke-width="2.6"/>
<g class="tl"><text x="192" y="893.6" text-anchor="end">0</text><text x="192" y="766.8" text-anchor="end">0.5</text><text x="192" y="639.9" text-anchor="end">1</text><text x="192" y="513.1" text-anchor="end">1.5</text><text x="192" y="386.3" text-anchor="end">2</text><text x="192" y="259.4" text-anchor="end">2.5</text><text x="192" y="132.6" text-anchor="end">3</text><text x="208.7" y="942.5" text-anchor="middle">-3</text><text x="456.5" y="942.5" text-anchor="middle">-2.5</text><text x="704.4" y="942.5" text-anchor="middle">-2</text><text x="952.2" y="942.5" text-anchor="middle">-1.5</text><text x="1200.0" y="942.5" text-anchor="middle">-1</text><text x="1447.9" y="942.5" text-anchor="middle">-0.5</text><text x="1695.7" y="942.5" text-anchor="middle">0</text></g>
<text class="lab" x="952.2" y="1015.8" text-anchor="middle">i<tspan font-size="45" dy="27.5">d</tspan><tspan dy="-27.5"> [A]</tspan></text>
<text class="lab" transform="translate(75.4 493.5) rotate(-90)" text-anchor="middle">i<tspan font-size="45" dy="27.5">q</tspan><tspan dy="-27.5"> [A]</tspan></text>
<text class="ttl" x="952.2" y="64.5" text-anchor="middle"><tspan font-family="Liberation Serif" font-style="italic" font-weight="normal" font-size="62" dy="-3">ψ</tspan><tspan font-size="46" dy="29.4" dx="4">d</tspan><tspan dy="-26.4"> over  </tspan><tspan font-style="italic">d-q</tspan> currents Experimental</text>
<rect x="1775.0" y="113.0" width="43.0" height="800.2" fill="none" stroke="#444444" stroke-width="2.4"/>
<path d="M1818.0 779.8h-5M1818.0 646.5h-5M1818.0 513.1h-5M1818.0 379.7h-5M1818.0 246.4h-5" stroke="#444444" stroke-width="2.4"/>
<g class="cl"><text x="1833.3" y="932.2">0.05</text><text x="1833.3" y="798.8">0.055</text><text x="1833.3" y="665.5">0.06</text><text x="1833.3" y="532.1">0.065</text><text x="1833.3" y="398.7">0.07</text><text x="1833.3" y="265.4">0.075</text><text x="1833.3" y="132.0">0.08</text></g>
<text class="cl" transform="translate(2003.5 513.1) rotate(-90)" text-anchor="middle">Flux Linkage [V·s/rad]</text>
<text class="cap" x="1009.5" y="1161.0" text-anchor="middle">(<tspan font-weight="bold">a</tspan>)</text>
<path d="M208.7 1320.0V2080.5H1695.7" fill="none" stroke="#444444" stroke-width="2.6"/>
<path d="M208.7 2080.5v-13.5M208.7 2080.5h13.5M456.5 2080.5v-13.5M208.7 1953.8h13.5M704.4 2080.5v-13.5M208.7 1827.0h13.5M952.2 2080.5v-13.5M208.7 1700.2h13.5M1200.0 2080.5v-13.5M208.7 1573.5h13.5M1447.9 2080.5v-13.5M208.7 1446.8h13.5M1695.7 2080.5v-13.5M208.7 1320.0h13.5" stroke="#444444" stroke-width="2.6"/>
<g class="tl"><text x="192" y="2100.1" text-anchor="end">0</text><text x="192" y="1973.3" text-anchor="end">0.5</text><text x="192" y="1846.6" text-anchor="end">1</text><text x="192" y="1719.8" text-anchor="end">1.5</text><text x="192" y="1593.1" text-anchor="end">2</text><text x="192" y="1466.3" text-anchor="end">2.5</text><text x="192" y="1339.6" text-anchor="end">3</text><text x="208.7" y="2149.0" text-anchor="middle">-3</text><text x="456.5" y="2149.0" text-anchor="middle">-2.5</text><text x="704.4" y="2149.0" text-anchor="middle">-2</text><text x="952.2" y="2149.0" text-anchor="middle">-1.5</text><text x="1200.0" y="2149.0" text-anchor="middle">-1</text><text x="1447.9" y="2149.0" text-anchor="middle">-0.5</text><text x="1695.7" y="2149.0" text-anchor="middle">0</text></g>
<text class="lab" x="952.2" y="2222.3" text-anchor="middle">i<tspan font-size="45" dy="27.5">d</tspan><tspan dy="-27.5"> [A]</tspan></text>
<text class="lab" transform="translate(75.4 1700.2) rotate(-90)" text-anchor="middle">i<tspan font-size="45" dy="27.5">q</tspan><tspan dy="-27.5"> [A]</tspan></text>
<text class="ttl" x="952.2" y="1271.5" text-anchor="middle"><tspan font-family="Liberation Serif" font-style="italic" font-weight="normal" font-size="62" dy="-3">ψ</tspan><tspan font-size="46" dy="29.4" dx="4">d</tspan><tspan dy="-26.4"> over  </tspan><tspan font-style="italic">d-q</tspan> currents FEA</text>
<rect x="1775.3" y="1320.0" width="43.0" height="800.9" fill="none" stroke="#444444" stroke-width="2.4"/>
<path d="M1818.3 1987.4h-5M1818.3 1853.9h-5M1818.3 1720.5h-5M1818.3 1587.0h-5M1818.3 1453.5h-5" stroke="#444444" stroke-width="2.4"/>
<g class="cl"><text x="1833.3" y="2139.9">0.05</text><text x="1833.3" y="2006.4">0.055</text><text x="1833.3" y="1872.9">0.06</text><text x="1833.3" y="1739.5">0.065</text><text x="1833.3" y="1606.0">0.07</text><text x="1833.3" y="1472.5">0.075</text><text x="1833.3" y="1339.0">0.08</text></g>
<text class="cl" transform="translate(2003.5 1720.5) rotate(-90)" text-anchor="middle">Flux Linkage [V·s/rad]</text>
<text class="cap" x="1009.5" y="2368.0" text-anchor="middle">(<tspan font-weight="bold">b</tspan>)</text>
<path d="M208.7 2527.0V3288.5H1695.7" fill="none" stroke="#444444" stroke-width="2.6"/>
<path d="M208.7 3288.5v-13.5M208.7 3288.5h13.5M456.5 3288.5v-13.5M208.7 3161.6h13.5M704.4 3288.5v-13.5M208.7 3034.7h13.5M952.2 3288.5v-13.5M208.7 2907.8h13.5M1200.0 3288.5v-13.5M208.7 2780.8h13.5M1447.9 3288.5v-13.5M208.7 2653.9h13.5M1695.7 3288.5v-13.5M208.7 2527.0h13.5" stroke="#444444" stroke-width="2.6"/>
<g class="tl"><text x="192" y="3308.1" text-anchor="end">0</text><text x="192" y="3181.2" text-anchor="end">0.5</text><text x="192" y="3054.3" text-anchor="end">1</text><text x="192" y="2927.3" text-anchor="end">1.5</text><text x="192" y="2800.4" text-anchor="end">2</text><text x="192" y="2673.5" text-anchor="end">2.5</text><text x="192" y="2546.6" text-anchor="end">3</text><text x="208.7" y="3357.0" text-anchor="middle">-3</text><text x="456.5" y="3357.0" text-anchor="middle">-2.5</text><text x="704.4" y="3357.0" text-anchor="middle">-2</text><text x="952.2" y="3357.0" text-anchor="middle">-1.5</text><text x="1200.0" y="3357.0" text-anchor="middle">-1</text><text x="1447.9" y="3357.0" text-anchor="middle">-0.5</text><text x="1695.7" y="3357.0" text-anchor="middle">0</text></g>
<text class="lab" x="952.2" y="3430.3" text-anchor="middle">i<tspan font-size="45" dy="27.5">d</tspan><tspan dy="-27.5"> [A]</tspan></text>
<text class="lab" transform="translate(75.4 2907.8) rotate(-90)" text-anchor="middle">i<tspan font-size="45" dy="27.5">q</tspan><tspan dy="-27.5"> [A]</tspan></text>
<text class="ttl" x="952.2" y="2478.5" text-anchor="middle"><tspan font-family="Liberation Serif" font-style="italic" font-weight="normal" font-size="62" dy="-3">ψ</tspan><tspan font-size="46" dy="29.4" dx="4">d</tspan><tspan dy="-26.4"> Error FEA versus Experimental</tspan></text>
<rect x="1776.3" y="2526.0" width="43.0" height="764.6" fill="none" stroke="#444444" stroke-width="2.4"/>
<path d="M1819.3 3035.7h-5M1819.3 2780.9h-5" stroke="#444444" stroke-width="2.4"/>
<g class="cl"><text x="1833.3" y="3309.6">0</text><text x="1833.3" y="3054.7">0.005</text><text x="1833.3" y="2799.9">0.01</text><text x="1833.3" y="2545.0">0.015</text></g>
<text class="cl" transform="translate(2003.5 2908.3) rotate(-90)" text-anchor="middle">Flux Linkage Error [V·s/rad]</text>
<text class="cap" x="1009.5" y="3575.0" text-anchor="middle">(<tspan font-weight="bold">c</tspan>)</text>
<path d="M1545.8 2741.7H1281.5Q1274.5 2741.7 1274.5 2734.7V2570.3Q1274.5 2563.3 1281.5 2563.3H1538.8Q1545.8 2563.3 1545.8 2570.3Z" fill="#f9f9fd" stroke="#c4c4c4" stroke-width="1.6"/>
<text x="1287.8" y="2617.1" class="dt">X <tspan class="dv">-0.3</tspan></text>
<text x="1287.8" y="2667.3" class="dt">Y <tspan class="dv">2.14</tspan></text>
<text x="1287.8" y="2717.5" class="dt">Z <tspan class="dv">0.00319664</tspan></text>
<circle cx="1548.4" cy="2745.4" r="6" fill="#1a1a1a" stroke="#f4f0dc" stroke-width="2.2"/>
<path d="M1224.2 3072.5V2903.7Q1224.2 2896.7 1231.2 2896.7H1487.5Q1494.5 2896.7 1494.5 2903.7V3065.5Q1494.5 3072.5 1487.5 3072.5Z" fill="#f9f9fd" stroke="#c4c4c4" stroke-width="1.6"/>
<text x="1237.5" y="2950.5" class="dt">X <tspan class="dv">-0.96</tspan></text>
<text x="1237.5" y="3000.7" class="dt">Y <tspan class="dv">0.84</tspan></text>
<text x="1237.5" y="3050.9" class="dt">Z <tspan class="dv">0.00834795</tspan></text>
<circle cx="1220.3" cy="3075.5" r="6" fill="#1a1a1a" stroke="#f4f0dc" stroke-width="2.2"/>
<path d="M598.2 3205.8V3035.1Q598.2 3028.1 605.2 3028.1H841.2Q848.2 3028.1 848.2 3035.1V3198.8Q848.2 3205.8 841.2 3205.8Z" fill="#f9f9fd" stroke="#c4c4c4" stroke-width="1.6"/>
<text x="611.5" y="3081.9" class="dt">X <tspan class="dv">-2.22</tspan></text>
<text x="611.5" y="3132.1" class="dt">Y <tspan class="dv">0.32</tspan></text>
<text x="611.5" y="3182.3" class="dt">Z <tspan class="dv">0.0140987</tspan></text>
<circle cx="595.3" cy="3207.3" r="6" fill="#1a1a1a" stroke="#f4f0dc" stroke-width="2.2"/>
</svg>
</div></body></html>
